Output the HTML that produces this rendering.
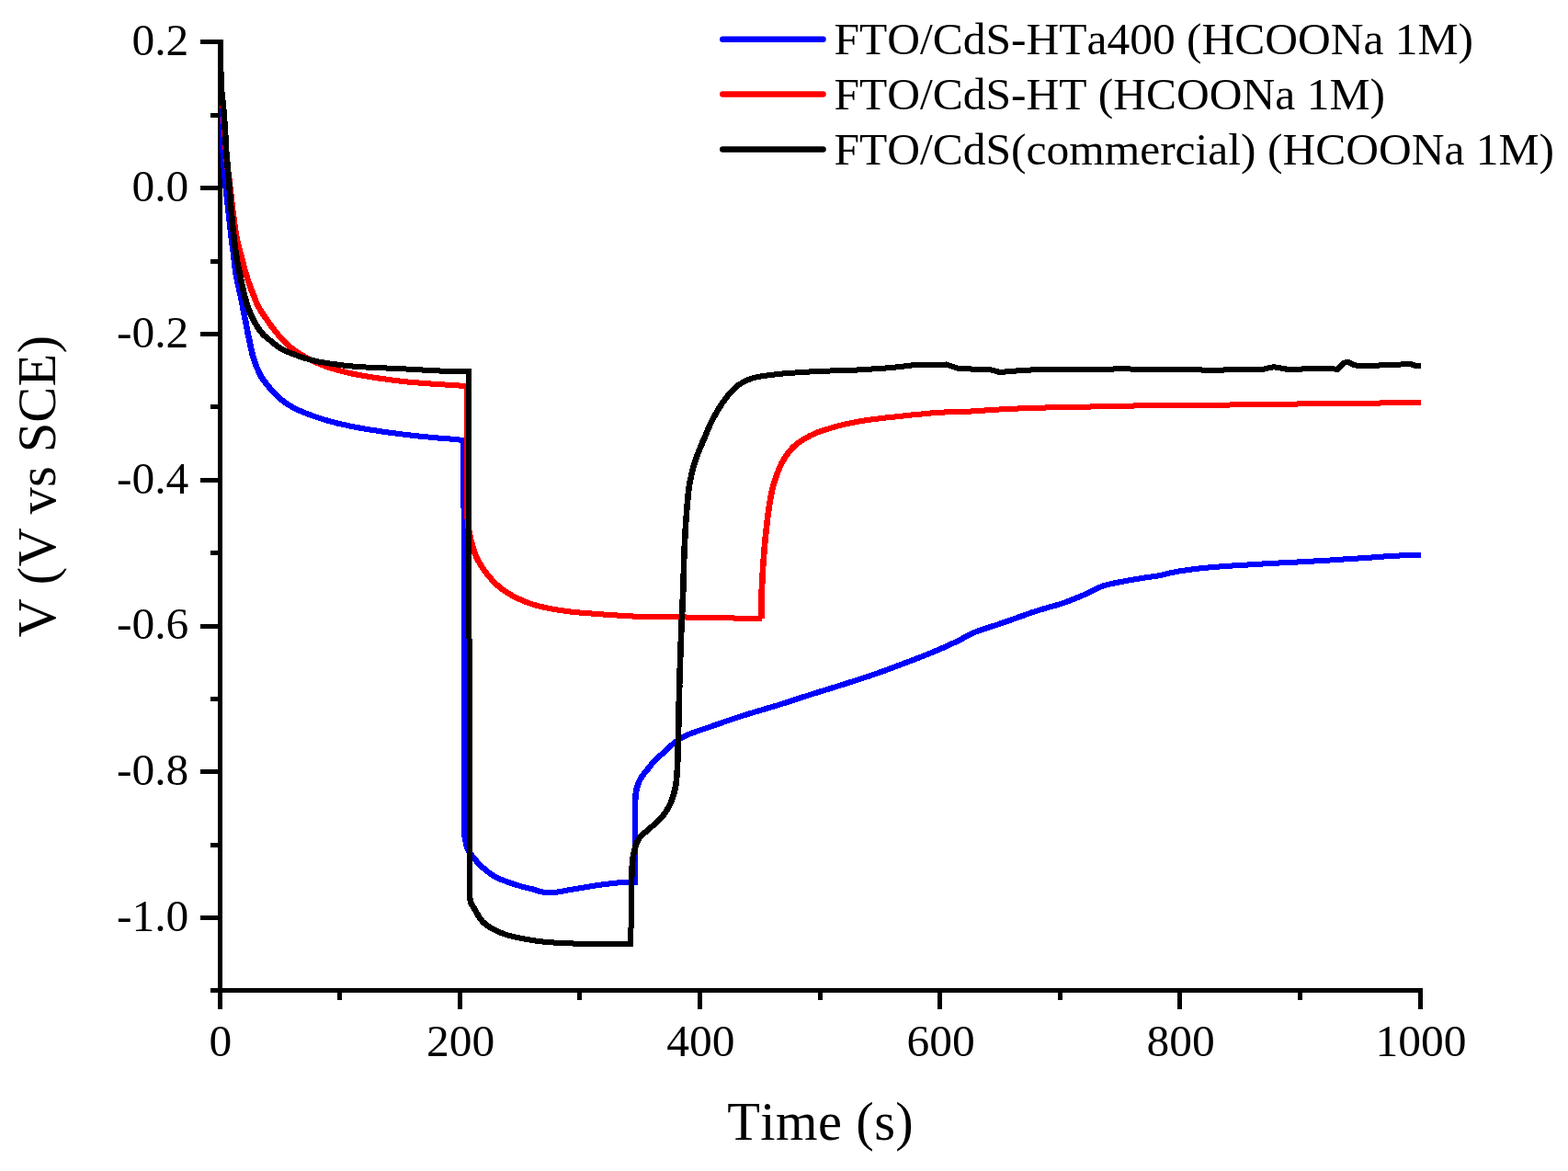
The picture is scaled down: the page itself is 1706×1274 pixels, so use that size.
<!DOCTYPE html>
<html lang="en">
<head>
<meta charset="utf-8">
<title>Open circuit potential vs time</title>
<style>
html,body{margin:0;padding:0;background:#fff;}
body{width:1706px;height:1274px;overflow:hidden;font-family:"Liberation Serif","Times New Roman",serif;}
svg{display:block;}
text{font-kerning:none;font-variant-ligatures:none;}
</style>
</head>
<body>
<svg width="1706" height="1274" viewBox="0 0 1706 1274" role="img" aria-label="Potential V (V vs SCE) versus Time (s)">
<rect width="1706" height="1274" fill="#fff"/>
<defs><clipPath id="plotclip"><rect x="239" y="43" width="1307" height="1034"/></clipPath></defs>
<g fill="#000" shape-rendering="crispEdges">
<rect x="237" y="43" width="5" height="1037"/>
<rect x="237" y="1075" width="1311" height="5"/>
<rect x="218" y="43" width="19" height="5"/>
<rect x="229" y="123" width="8" height="5"/>
<rect x="218" y="202" width="19" height="5"/>
<rect x="229" y="282" width="8" height="5"/>
<rect x="218" y="361" width="19" height="5"/>
<rect x="229" y="440" width="8" height="5"/>
<rect x="218" y="520" width="19" height="5"/>
<rect x="229" y="599" width="8" height="5"/>
<rect x="218" y="679" width="19" height="5"/>
<rect x="229" y="758" width="8" height="5"/>
<rect x="218" y="837" width="19" height="5"/>
<rect x="229" y="917" width="8" height="5"/>
<rect x="218" y="996" width="19" height="5"/>
<rect x="229" y="1075" width="8" height="5"/>
<rect x="237" y="1080" width="5" height="18"/>
<rect x="367" y="1080" width="5" height="8"/>
<rect x="498" y="1080" width="5" height="18"/>
<rect x="628" y="1080" width="5" height="8"/>
<rect x="759" y="1080" width="5" height="18"/>
<rect x="890" y="1080" width="5" height="8"/>
<rect x="1020" y="1080" width="5" height="18"/>
<rect x="1151" y="1080" width="5" height="8"/>
<rect x="1281" y="1080" width="5" height="18"/>
<rect x="1412" y="1080" width="5" height="8"/>
<rect x="1543" y="1080" width="5" height="18"/>
</g>
<g clip-path="url(#plotclip)" shape-rendering="crispEdges" fill="none" stroke-width="6.0" stroke-linejoin="miter" stroke-miterlimit="3" stroke-linecap="butt">
<g stroke="#0000ff">
<path transform="translate(-0.30 0)" d="M240.3 116.0L240.4 117.5L240.4 119.1L240.5 120.6L240.6 122.2L240.7 123.7L240.7 125.3L240.8 126.8L240.9 128.4L241.0 129.9L241.0 131.5L241.1 133.0L241.2 134.6L241.3 136.1L241.3 137.6L241.4 139.1L241.5 140.6L241.6 142.1L241.6 143.6L241.7 145.0L241.8 146.6L241.9 148.2L241.9 149.8L242.0 151.3L242.1 152.9L242.2 154.4L242.2 155.9L242.3 157.5L242.4 159.0L242.5 160.5L242.6 162.0L242.6 163.5L242.7 165.0L242.8 166.5L242.9 168.0L243.0 169.6L243.1 171.2L243.2 172.8L243.3 174.4L243.4 176.1L243.5 177.7L243.6 179.3L243.7 180.9L243.8 182.5L244.0 184.0L244.1 185.6L244.2 187.1L244.3 188.6L244.4 190.0L244.5 191.6L244.7 193.1L244.8 194.6L244.9 196.0L245.0 197.4L245.1 198.8L245.3 200.3L245.4 201.8L245.6 203.3L245.8 205.0L245.9 206.3L246.0 207.7L246.2 209.1L246.3 210.5L246.5 212.0L246.7 213.5L246.9 215.0L247.0 216.6L247.2 218.2L247.4 219.7L247.6 221.3L247.8 222.9L248.0 224.5L248.2 226.1L248.4 227.7L248.5 229.3L248.7 230.9L248.9 232.4L249.1 234.0L249.3 235.5L249.4 237.1L249.6 238.7L249.8 240.4L250.0 242.0L250.1 243.6L250.3 245.2L250.5 246.8L250.7 248.4L250.8 250.0L251.0 251.6L251.2 253.1L251.4 254.7L251.5 256.2L251.7 257.7L251.9 259.2L252.1 260.6L252.2 262.2L252.4 263.8L252.6 265.3L252.8 266.8L253.0 268.3L253.2 269.8L253.4 271.2L253.6 272.7L253.8 274.1L254.0 275.6L254.2 277.0L254.4 278.5L254.6 280.0L254.7 281.5L254.9 283.1L255.1 284.6L255.2 286.1L255.4 287.7L255.6 289.2L255.7 290.8L255.9 292.3L256.1 293.8L256.3 295.4L256.5 296.9L256.7 298.5L257.0 300.0L257.3 301.5L257.6 303.1L257.9 304.6L258.2 306.1L258.5 307.5L258.9 309.0L259.2 310.5L259.6 312.1L260.0 313.6L260.3 315.1L260.7 316.7L261.0 318.3L261.4 320.0L261.7 321.4L262.0 322.8L262.2 324.2L262.5 325.6L262.8 327.1L263.1 328.5L263.4 330.0L263.7 331.5L264.0 333.0L264.3 334.6L264.6 336.1L264.8 337.6L265.1 339.1L265.4 340.7L265.7 342.2L266.0 343.7L266.3 345.2L266.6 346.7L266.9 348.2L267.2 349.7L267.5 351.2L267.8 352.8L268.1 354.3L268.4 355.9L268.7 357.5L269.0 359.0L269.3 360.6L269.6 362.2L269.9 363.7L270.3 365.3L270.6 366.8L270.9 368.3L271.2 369.8L271.5 371.2L271.7 372.6L272.0 373.9L272.3 375.2L272.6 376.5L273.0 378.3L273.4 380.0L273.7 381.6L274.1 383.1L274.4 384.6L274.8 386.1L275.2 387.6L275.6 389.1L276.1 390.6L276.6 392.1L277.1 393.5L277.7 395.1L278.2 396.6L278.8 398.1L279.4 399.6L280.0 401.0L280.6 402.3L281.1 403.6L281.6 404.7L282.4 406.6L283.2 408.1L284.3 410.0L284.9 410.9L285.5 411.8L286.3 412.9L287.1 414.0L287.9 415.1L288.9 416.3L289.8 417.6L290.8 418.9L291.9 420.2L293.0 421.5L294.1 422.8L295.2 424.0L296.3 425.3L297.4 426.5L298.5 427.7L299.5 428.8L300.6 429.8L301.8 430.9L302.9 432.0L304.1 433.0L305.2 434.0L306.4 435.0L307.6 435.9L308.8 436.9L310.0 437.8L311.3 438.7L312.6 439.5L313.9 440.4L315.3 441.3L316.8 442.1L318.3 443.0L319.5 443.6L320.7 444.3L321.9 444.9L323.2 445.5L324.5 446.1L325.8 446.7L327.2 447.3L328.6 447.9L330.0 448.5L331.4 449.1L332.8 449.6L334.3 450.2L335.8 450.8L337.3 451.3L338.8 451.9L340.3 452.4L341.8 452.9L343.3 453.4L344.8 453.9L346.3 454.4L347.8 454.9L349.2 455.4L350.7 455.9L352.2 456.4L353.6 456.8L355.0 457.2L356.5 457.7L357.9 458.1L359.4 458.5L360.8 458.9L362.2 459.3L363.6 459.6L365.0 460.0L366.5 460.4L367.9 460.7L369.3 461.0L370.7 461.4L372.2 461.7L373.6 462.0L375.1 462.3L376.6 462.6L378.0 463.0L379.5 463.3L381.0 463.6L382.6 463.9L384.1 464.2L385.7 464.5L387.3 464.8L388.9 465.1L390.3 465.4L391.6 465.6L393.0 465.9L394.4 466.1L395.9 466.4L397.3 466.6L398.7 466.9L400.2 467.1L401.6 467.4L403.1 467.6L404.6 467.8L406.1 468.1L407.6 468.3L409.1 468.5L410.6 468.8L412.1 469.0L413.7 469.2L415.2 469.5L416.7 469.7L418.3 469.9L419.8 470.1L421.4 470.3L423.0 470.6L424.5 470.8L426.1 471.0L427.7 471.2L429.3 471.4L430.8 471.6L432.4 471.8L434.0 472.0L435.6 472.2L437.2 472.4L438.7 472.6L440.3 472.8L441.9 473.0L443.4 473.2L444.8 473.3L446.3 473.5L447.8 473.7L449.3 473.8L450.8 474.0L452.3 474.2L453.8 474.3L455.3 474.5L456.8 474.6L458.3 474.8L459.8 474.9L461.3 475.1L462.8 475.2L464.4 475.4L465.9 475.5L467.4 475.6L469.0 475.8L470.5 475.9L472.0 476.1L473.6 476.2L475.1 476.3L476.7 476.5L478.2 476.6L479.8 476.7L481.3 476.9L482.8 477.0L484.4 477.1L485.9 477.3L487.5 477.4L489.0 477.5L490.6 477.7L492.1 477.8L493.6 477.9L495.2 478.1L496.7 478.2L498.3 478.3L499.8 478.5L501.3 478.6L502.9 478.8L504.4 478.9M505.0 903.0L505.2 904.5L505.3 906.0L505.4 907.5L505.6 909.0L505.8 910.5L506.0 912.0L506.3 913.5L506.6 915.1L506.9 916.6L507.2 918.2L507.6 919.6L508.0 921.0L508.5 922.6L509.1 924.2L509.8 925.6L510.5 927.0L511.5 928.6L512.6 930.0L514.0 931.7L514.8 932.6L515.6 933.6L516.5 934.7L517.5 935.8L518.5 937.0L519.6 938.2L520.7 939.4L521.9 940.6L523.0 941.7L524.2 942.9L525.3 943.9L526.5 944.9L527.7 946.0L528.9 947.0L530.2 948.0L531.5 949.0L532.8 949.9L534.1 950.9L535.4 951.8L536.7 952.6L538.1 953.4L539.4 954.2L540.8 954.9L542.2 955.6L543.6 956.3L545.0 956.8L546.4 957.4L547.9 957.9L549.3 958.5L550.7 959.0L552.2 959.5L553.6 960.0L555.2 960.6L556.7 961.1L558.3 961.6L559.8 962.1L561.4 962.6L563.0 963.1L564.6 963.6L566.1 964.0L567.7 964.5L569.3 964.9L570.9 965.4L572.6 965.8L574.3 966.2L575.9 966.6L577.5 967.0L579.1 967.3L580.5 967.7L581.8 968.1L583.5 968.7L585.1 969.2L586.5 969.8L588.0 970.3M588.0 970.3L589.6 970.4L591.2 970.6L592.8 970.7L594.3 970.8L595.9 970.9L597.4 971.0L598.8 971.0L600.3 971.0L601.8 971.0L603.5 970.9L604.8 970.8L606.2 970.6L607.6 970.4L609.1 970.1L610.7 969.8L612.3 969.5L613.9 969.2L615.6 968.9L617.3 968.6L619.0 968.3L620.3 968.1L621.7 967.8L623.1 967.6L624.6 967.3L626.1 967.1L627.6 966.8L629.1 966.6L630.7 966.3L632.2 966.0L633.8 965.8L635.4 965.5L636.9 965.2L638.5 965.0L640.1 964.7L641.6 964.5L643.2 964.2L644.7 964.0L646.2 963.8L647.8 963.5L649.4 963.3L650.9 963.1L652.5 962.8L654.2 962.6L655.8 962.4L657.3 962.2L658.9 962.0L660.5 961.8L662.0 961.6L663.6 961.4L665.0 961.2L666.5 961.0L667.9 960.9L669.2 960.7L670.5 960.6L672.3 960.4L674.1 960.3L675.8 960.2L677.4 960.1L679.0 960.1L680.5 960.0L682.0 959.9L683.4 959.9L685.0 959.9L686.6 959.8L688.1 959.8L689.5 959.8L691.0 959.8M691.5 870.0L691.6 868.5L691.6 866.9L691.7 865.4L691.7 863.9L691.9 862.4L692.2 860.6L692.5 858.8L693.0 857.1L693.5 855.3L694.0 853.9L694.5 852.4L695.1 851.0L695.7 849.6L696.4 848.2L697.2 846.7L698.2 845.2L699.2 843.8L700.2 842.4L701.1 841.2L702.1 840.0L703.0 838.9L704.1 837.7L704.9 836.7L705.8 835.5L706.7 834.3L707.7 833.0L708.7 831.7L709.7 830.4L710.8 829.2L711.8 828.2L712.8 827.2L713.8 826.2L714.8 825.2L715.9 824.2L717.0 823.2L718.2 822.2L719.4 821.1L720.7 820.0L721.7 819.1L722.7 818.2L723.7 817.3L724.7 816.3L725.8 815.3L726.9 814.2L728.0 813.2L729.1 812.2L730.3 811.1L731.4 810.1L732.7 809.0L733.9 808.0L735.2 807.0L736.5 806.0L737.8 805.1L739.2 804.2L740.6 803.3L741.8 802.6L743.0 802.0L744.3 801.3L745.6 800.7L746.9 800.1L748.2 799.5L749.6 798.9L751.0 798.3L752.4 797.8L753.9 797.2L755.3 796.7L756.8 796.2L758.2 795.6L759.7 795.1L761.2 794.6L762.7 794.1L764.2 793.6L765.7 793.1L767.2 792.6L768.7 792.1L770.2 791.6L771.7 791.1L773.1 790.6L774.6 790.1L776.0 789.6L777.5 789.1L778.9 788.5L780.4 788.0L781.9 787.5L783.3 787.0L784.8 786.5L786.3 786.0L787.7 785.5L789.2 785.0L790.7 784.5L792.2 784.0L793.6 783.5L795.1 783.0L796.6 782.5L798.0 782.0L799.5 781.5L801.0 781.0L802.5 780.5L803.9 780.1L805.4 779.6L806.9 779.1L808.4 778.6L809.8 778.2L811.3 777.7L812.8 777.2L814.2 776.8L815.7 776.3L817.2 775.9L818.6 775.4L820.1 775.0L821.6 774.5L823.1 774.1L824.5 773.7L826.0 773.2L827.5 772.8L828.9 772.4L830.4 771.9L831.9 771.5L833.4 771.1L834.8 770.6L836.3 770.2L837.8 769.8L839.3 769.3L840.7 768.9L842.2 768.5L843.7 768.0L845.1 767.6L846.6 767.1L848.1 766.6L849.5 766.2L851.0 765.7L852.5 765.2L854.0 764.8L855.4 764.3L856.9 763.8L858.4 763.3L859.8 762.9L861.3 762.4L862.8 761.9L864.3 761.4L865.7 760.9L867.2 760.5L868.7 760.0L870.1 759.5L871.6 759.0L873.1 758.5L874.5 758.1L876.0 757.6L877.5 757.1L879.0 756.6L880.4 756.2L881.9 755.7L883.4 755.2L884.8 754.8L886.3 754.3L887.8 753.9L889.3 753.4L890.7 752.9L892.2 752.5L893.7 752.0L895.1 751.6L896.6 751.1L898.1 750.7L899.6 750.2L901.0 749.8L902.5 749.3L904.0 748.8L905.4 748.4L906.9 747.9L908.4 747.5L909.8 747.0L911.3 746.6L912.8 746.1L914.3 745.6L915.7 745.2L917.2 744.7L918.7 744.2L920.2 743.8L921.7 743.3L923.2 742.8L924.7 742.3L926.2 741.8L927.7 741.4L929.2 740.9L930.7 740.4L932.2 739.9L933.7 739.4L935.2 738.9L936.7 738.5L938.2 738.0L939.7 737.5L941.2 737.0L942.7 736.5L944.1 736.0L945.5 735.6L947.0 735.1L948.4 734.6L949.8 734.1L951.1 733.7L952.5 733.2L954.1 732.6L955.6 732.1L957.1 731.6L958.6 731.0L960.1 730.5L961.5 730.0L962.9 729.5L964.4 728.9L965.8 728.4L967.2 727.9L968.6 727.3L970.1 726.8L971.5 726.2L973.0 725.7L974.5 725.1L976.1 724.5L977.7 723.9L979.0 723.4L980.4 722.9L981.7 722.4L983.1 721.9L984.6 721.3L986.0 720.8L987.4 720.2L988.9 719.7L990.4 719.1L991.9 718.6L993.4 718.0L994.9 717.4L996.4 716.9L997.9 716.3L999.4 715.7L1000.9 715.1L1002.4 714.6L1003.9 714.0L1005.4 713.4L1006.9 712.8L1008.3 712.2L1009.8 711.7L1011.2 711.1L1012.6 710.5L1014.0 710.0L1015.3 709.4L1016.8 708.8L1018.3 708.1L1019.9 707.5L1021.4 706.8L1022.9 706.1L1024.4 705.5L1025.9 704.8L1027.4 704.2L1028.8 703.5L1030.3 702.9L1031.7 702.2L1033.1 701.5L1034.5 700.9L1035.9 700.3L1037.3 699.6L1038.6 699.0L1039.9 698.4L1041.2 697.8L1042.4 697.2L1043.6 696.6L1045.1 695.8L1046.6 695.1L1047.9 694.3L1049.2 693.6L1050.4 692.9L1051.7 692.2L1053.0 691.5L1054.3 690.8L1055.6 690.1L1057.1 689.4L1058.7 688.7L1059.9 688.2L1061.1 687.7L1062.4 687.2L1063.7 686.7L1065.1 686.2L1066.5 685.7L1067.9 685.2L1069.3 684.7L1070.8 684.2L1072.3 683.8L1073.8 683.3L1075.3 682.8L1076.8 682.3L1078.3 681.8L1079.9 681.3L1081.4 680.8L1083.0 680.3L1084.6 679.8L1086.1 679.3L1087.6 678.7L1089.2 678.2L1090.7 677.7L1092.1 677.2L1093.5 676.7L1094.9 676.2L1096.4 675.7L1097.8 675.2L1099.3 674.7L1100.8 674.1L1102.2 673.6L1103.7 673.1L1105.2 672.6L1106.7 672.0L1108.2 671.5L1109.7 671.0L1111.2 670.4L1112.7 669.9L1114.1 669.4L1115.6 668.8L1117.1 668.3L1118.5 667.8L1120.0 667.3L1121.4 666.8L1122.9 666.3L1124.3 665.9L1125.7 665.4L1127.0 664.9L1128.4 664.5L1130.0 664.0L1131.5 663.5L1133.1 663.0L1134.6 662.6L1136.2 662.1L1137.7 661.7L1139.2 661.3L1140.7 660.8L1142.2 660.4L1143.7 660.0L1145.2 659.6L1146.6 659.2L1148.1 658.8L1149.5 658.3L1151.0 657.9L1152.4 657.5L1153.8 657.0L1155.2 656.6L1156.6 656.1L1158.1 655.6L1159.6 655.1L1161.0 654.5L1162.5 654.0L1163.9 653.4L1165.3 652.9L1166.8 652.3L1168.2 651.8L1169.6 651.2L1170.9 650.7L1172.3 650.1L1173.7 649.5L1175.1 648.9L1176.5 648.4L1177.8 647.8L1179.2 647.2L1180.6 646.6L1182.0 645.9L1183.4 645.3L1184.8 644.6L1186.1 643.9L1187.5 643.2L1188.8 642.5L1190.2 641.8L1191.6 641.2L1192.9 640.5L1194.3 639.9L1195.7 639.2L1197.1 638.7L1198.5 638.1L1199.9 637.6L1201.4 637.1L1202.8 636.7L1204.3 636.3L1205.9 635.9L1207.4 635.5L1208.9 635.2L1210.5 634.8L1212.0 634.5L1213.5 634.2L1215.1 633.9L1216.6 633.6L1218.1 633.3L1219.6 633.1L1221.1 632.8L1222.5 632.5L1224.1 632.2L1225.7 631.9L1227.2 631.6L1228.8 631.3L1230.3 631.0L1231.8 630.7L1233.4 630.5L1234.9 630.2L1236.4 630.0L1237.9 629.7L1239.5 629.5L1241.0 629.2L1242.6 629.0L1244.2 628.7L1245.7 628.5L1247.3 628.3L1248.9 628.1L1250.5 627.8L1252.1 627.6L1253.7 627.4L1255.3 627.2L1256.9 626.9L1258.4 626.7L1260.0 626.4L1261.5 626.1L1263.0 625.8L1264.5 625.5L1265.9 625.1L1267.4 624.8L1268.9 624.4L1270.3 624.0L1271.8 623.7L1273.3 623.3L1274.7 623.0L1276.2 622.7L1277.7 622.4L1279.2 622.1L1280.7 621.9L1282.2 621.6L1283.7 621.4L1285.3 621.1L1286.8 620.9L1288.3 620.7L1289.8 620.4L1291.4 620.2L1292.9 620.0L1294.5 619.8L1296.0 619.6L1297.6 619.4L1299.1 619.2L1300.5 619.0L1302.0 618.8L1303.5 618.6L1305.0 618.5L1306.5 618.3L1308.1 618.1L1309.7 617.9L1311.5 617.8L1313.3 617.6L1315.3 617.4L1316.4 617.3L1317.6 617.2L1318.9 617.1L1320.1 617.0L1321.4 616.9L1322.8 616.8L1324.2 616.7L1325.6 616.6L1327.0 616.5L1328.5 616.4L1329.9 616.2L1331.5 616.1L1333.0 616.0L1334.5 615.9L1336.1 615.8L1337.7 615.7L1339.3 615.6L1340.9 615.5L1342.6 615.4L1344.2 615.3L1345.8 615.2L1347.5 615.1L1349.2 615.0L1350.8 614.9L1352.5 614.8L1354.1 614.7L1355.8 614.6L1357.5 614.5L1359.1 614.4L1360.8 614.3L1362.4 614.2L1364.0 614.1L1365.6 614.0L1367.2 613.9L1368.8 613.8L1370.4 613.7L1371.9 613.6L1373.4 613.5L1375.0 613.4L1376.5 613.3L1378.0 613.2L1379.5 613.2L1381.1 613.1L1382.6 613.0L1384.1 612.9L1385.6 612.8L1387.2 612.7L1388.7 612.7L1390.2 612.6L1391.8 612.5L1393.3 612.4L1394.8 612.4L1396.3 612.3L1397.9 612.2L1399.4 612.1L1400.9 612.0L1402.4 612.0L1404.0 611.9L1405.5 611.8L1407.0 611.7L1408.6 611.7L1410.1 611.6L1411.6 611.5L1413.1 611.4L1414.7 611.4L1416.2 611.3L1417.7 611.2L1419.2 611.1L1420.8 611.0L1422.3 610.9L1423.8 610.9L1425.3 610.8L1426.9 610.7L1428.4 610.6L1429.9 610.5L1431.5 610.4L1433.0 610.3L1434.6 610.2L1436.1 610.1L1437.7 610.0L1439.3 609.9L1440.8 609.9L1442.4 609.8L1444.0 609.7L1445.6 609.6L1447.1 609.5L1448.7 609.4L1450.3 609.3L1451.9 609.2L1453.4 609.1L1455.0 609.0L1456.6 608.9L1458.2 608.7L1459.7 608.6L1461.3 608.5L1462.8 608.4L1464.4 608.3L1465.9 608.2L1467.4 608.1L1468.9 608.0L1470.5 607.9L1472.0 607.8L1473.4 607.8L1474.9 607.7L1476.4 607.6L1477.8 607.5L1479.3 607.4L1480.7 607.3L1482.1 607.2L1483.5 607.1L1484.9 607.0L1486.5 606.9L1488.2 606.8L1489.8 606.7L1491.4 606.6L1493.0 606.4L1494.6 606.3L1496.1 606.2L1497.7 606.1L1499.2 606.0L1500.8 605.9L1502.3 605.8L1503.8 605.7L1505.3 605.5L1506.8 605.4L1508.2 605.3L1509.7 605.2L1511.2 605.1L1512.6 605.0L1514.0 604.9L1515.5 604.9L1516.9 604.8L1518.3 604.7L1519.7 604.6L1521.1 604.6L1522.5 604.5L1524.1 604.4L1525.7 604.4L1527.3 604.3L1528.9 604.3L1530.4 604.3L1532.0 604.2L1533.5 604.2L1535.0 604.2L1536.5 604.2L1538.0 604.1L1539.5 604.1L1541.0 604.1L1542.5 604.1L1544.0 604.1L1545.5 604.1L1547.0 604.0L1548.5 604.0L1550.0 604.0"/>
<path transform="translate(0.30 0)" d="M240.3 116.0L240.4 117.5L240.4 119.1L240.5 120.6L240.6 122.2L240.7 123.7L240.7 125.3L240.8 126.8L240.9 128.4L241.0 129.9L241.0 131.5L241.1 133.0L241.2 134.6L241.3 136.1L241.3 137.6L241.4 139.1L241.5 140.6L241.6 142.1L241.6 143.6L241.7 145.0L241.8 146.6L241.9 148.2L241.9 149.8L242.0 151.3L242.1 152.9L242.2 154.4L242.2 155.9L242.3 157.5L242.4 159.0L242.5 160.5L242.6 162.0L242.6 163.5L242.7 165.0L242.8 166.5L242.9 168.0L243.0 169.6L243.1 171.2L243.2 172.8L243.3 174.4L243.4 176.1L243.5 177.7L243.6 179.3L243.7 180.9L243.8 182.5L244.0 184.0L244.1 185.6L244.2 187.1L244.3 188.6L244.4 190.0L244.5 191.6L244.7 193.1L244.8 194.6L244.9 196.0L245.0 197.4L245.1 198.8L245.3 200.3L245.4 201.8L245.6 203.3L245.8 205.0L245.9 206.3L246.0 207.7L246.2 209.1L246.3 210.5L246.5 212.0L246.7 213.5L246.9 215.0L247.0 216.6L247.2 218.2L247.4 219.7L247.6 221.3L247.8 222.9L248.0 224.5L248.2 226.1L248.4 227.7L248.5 229.3L248.7 230.9L248.9 232.4L249.1 234.0L249.3 235.5L249.4 237.1L249.6 238.7L249.8 240.4L250.0 242.0L250.1 243.6L250.3 245.2L250.5 246.8L250.7 248.4L250.8 250.0L251.0 251.6L251.2 253.1L251.4 254.7L251.5 256.2L251.7 257.7L251.9 259.2L252.1 260.6L252.2 262.2L252.4 263.8L252.6 265.3L252.8 266.8L253.0 268.3L253.2 269.8L253.4 271.2L253.6 272.7L253.8 274.1L254.0 275.6L254.2 277.0L254.4 278.5L254.6 280.0L254.7 281.5L254.9 283.1L255.1 284.6L255.2 286.1L255.4 287.7L255.6 289.2L255.7 290.8L255.9 292.3L256.1 293.8L256.3 295.4L256.5 296.9L256.7 298.5L257.0 300.0L257.3 301.5L257.6 303.1L257.9 304.6L258.2 306.1L258.5 307.5L258.9 309.0L259.2 310.5L259.6 312.1L260.0 313.6L260.3 315.1L260.7 316.7L261.0 318.3L261.4 320.0L261.7 321.4L262.0 322.8L262.2 324.2L262.5 325.6L262.8 327.1L263.1 328.5L263.4 330.0L263.7 331.5L264.0 333.0L264.3 334.6L264.6 336.1L264.8 337.6L265.1 339.1L265.4 340.7L265.7 342.2L266.0 343.7L266.3 345.2L266.6 346.7L266.9 348.2L267.2 349.7L267.5 351.2L267.8 352.8L268.1 354.3L268.4 355.9L268.7 357.5L269.0 359.0L269.3 360.6L269.6 362.2L269.9 363.7L270.3 365.3L270.6 366.8L270.9 368.3L271.2 369.8L271.5 371.2L271.7 372.6L272.0 373.9L272.3 375.2L272.6 376.5L273.0 378.3L273.4 380.0L273.7 381.6L274.1 383.1L274.4 384.6L274.8 386.1L275.2 387.6L275.6 389.1L276.1 390.6L276.6 392.1L277.1 393.5L277.7 395.1L278.2 396.6L278.8 398.1L279.4 399.6L280.0 401.0L280.6 402.3L281.1 403.6L281.6 404.7L282.4 406.6L283.2 408.1L284.3 410.0L284.9 410.9L285.5 411.8L286.3 412.9L287.1 414.0L287.9 415.1L288.9 416.3L289.8 417.6L290.8 418.9L291.9 420.2L293.0 421.5L294.1 422.8L295.2 424.0L296.3 425.3L297.4 426.5L298.5 427.7L299.5 428.8L300.6 429.8L301.8 430.9L302.9 432.0L304.1 433.0L305.2 434.0L306.4 435.0L307.6 435.9L308.8 436.9L310.0 437.8L311.3 438.7L312.6 439.5L313.9 440.4L315.3 441.3L316.8 442.1L318.3 443.0L319.5 443.6L320.7 444.3L321.9 444.9L323.2 445.5L324.5 446.1L325.8 446.7L327.2 447.3L328.6 447.9L330.0 448.5L331.4 449.1L332.8 449.6L334.3 450.2L335.8 450.8L337.3 451.3L338.8 451.9L340.3 452.4L341.8 452.9L343.3 453.4L344.8 453.9L346.3 454.4L347.8 454.9L349.2 455.4L350.7 455.9L352.2 456.4L353.6 456.8L355.0 457.2L356.5 457.7L357.9 458.1L359.4 458.5L360.8 458.9L362.2 459.3L363.6 459.6L365.0 460.0L366.5 460.4L367.9 460.7L369.3 461.0L370.7 461.4L372.2 461.7L373.6 462.0L375.1 462.3L376.6 462.6L378.0 463.0L379.5 463.3L381.0 463.6L382.6 463.9L384.1 464.2L385.7 464.5L387.3 464.8L388.9 465.1L390.3 465.4L391.6 465.6L393.0 465.9L394.4 466.1L395.9 466.4L397.3 466.6L398.7 466.9L400.2 467.1L401.6 467.4L403.1 467.6L404.6 467.8L406.1 468.1L407.6 468.3L409.1 468.5L410.6 468.8L412.1 469.0L413.7 469.2L415.2 469.5L416.7 469.7L418.3 469.9L419.8 470.1L421.4 470.3L423.0 470.6L424.5 470.8L426.1 471.0L427.7 471.2L429.3 471.4L430.8 471.6L432.4 471.8L434.0 472.0L435.6 472.2L437.2 472.4L438.7 472.6L440.3 472.8L441.9 473.0L443.4 473.2L444.8 473.3L446.3 473.5L447.8 473.7L449.3 473.8L450.8 474.0L452.3 474.2L453.8 474.3L455.3 474.5L456.8 474.6L458.3 474.8L459.8 474.9L461.3 475.1L462.8 475.2L464.4 475.4L465.9 475.5L467.4 475.6L469.0 475.8L470.5 475.9L472.0 476.1L473.6 476.2L475.1 476.3L476.7 476.5L478.2 476.6L479.8 476.7L481.3 476.9L482.8 477.0L484.4 477.1L485.9 477.3L487.5 477.4L489.0 477.5L490.6 477.7L492.1 477.8L493.6 477.9L495.2 478.1L496.7 478.2L498.3 478.3L499.8 478.5L501.3 478.6L502.9 478.8L504.4 478.9M505.0 903.0L505.2 904.5L505.3 906.0L505.4 907.5L505.6 909.0L505.8 910.5L506.0 912.0L506.3 913.5L506.6 915.1L506.9 916.6L507.2 918.2L507.6 919.6L508.0 921.0L508.5 922.6L509.1 924.2L509.8 925.6L510.5 927.0L511.5 928.6L512.6 930.0L514.0 931.7L514.8 932.6L515.6 933.6L516.5 934.7L517.5 935.8L518.5 937.0L519.6 938.2L520.7 939.4L521.9 940.6L523.0 941.7L524.2 942.9L525.3 943.9L526.5 944.9L527.7 946.0L528.9 947.0L530.2 948.0L531.5 949.0L532.8 949.9L534.1 950.9L535.4 951.8L536.7 952.6L538.1 953.4L539.4 954.2L540.8 954.9L542.2 955.6L543.6 956.3L545.0 956.8L546.4 957.4L547.9 957.9L549.3 958.5L550.7 959.0L552.2 959.5L553.6 960.0L555.2 960.6L556.7 961.1L558.3 961.6L559.8 962.1L561.4 962.6L563.0 963.1L564.6 963.6L566.1 964.0L567.7 964.5L569.3 964.9L570.9 965.4L572.6 965.8L574.3 966.2L575.9 966.6L577.5 967.0L579.1 967.3L580.5 967.7L581.8 968.1L583.5 968.7L585.1 969.2L586.5 969.8L588.0 970.3M588.0 970.3L589.6 970.4L591.2 970.6L592.8 970.7L594.3 970.8L595.9 970.9L597.4 971.0L598.8 971.0L600.3 971.0L601.8 971.0L603.5 970.9L604.8 970.8L606.2 970.6L607.6 970.4L609.1 970.1L610.7 969.8L612.3 969.5L613.9 969.2L615.6 968.9L617.3 968.6L619.0 968.3L620.3 968.1L621.7 967.8L623.1 967.6L624.6 967.3L626.1 967.1L627.6 966.8L629.1 966.6L630.7 966.3L632.2 966.0L633.8 965.8L635.4 965.5L636.9 965.2L638.5 965.0L640.1 964.7L641.6 964.5L643.2 964.2L644.7 964.0L646.2 963.8L647.8 963.5L649.4 963.3L650.9 963.1L652.5 962.8L654.2 962.6L655.8 962.4L657.3 962.2L658.9 962.0L660.5 961.8L662.0 961.6L663.6 961.4L665.0 961.2L666.5 961.0L667.9 960.9L669.2 960.7L670.5 960.6L672.3 960.4L674.1 960.3L675.8 960.2L677.4 960.1L679.0 960.1L680.5 960.0L682.0 959.9L683.4 959.9L685.0 959.9L686.6 959.8L688.1 959.8L689.5 959.8L691.0 959.8M691.5 870.0L691.6 868.5L691.6 866.9L691.7 865.4L691.7 863.9L691.9 862.4L692.2 860.6L692.5 858.8L693.0 857.1L693.5 855.3L694.0 853.9L694.5 852.4L695.1 851.0L695.7 849.6L696.4 848.2L697.2 846.7L698.2 845.2L699.2 843.8L700.2 842.4L701.1 841.2L702.1 840.0L703.0 838.9L704.1 837.7L704.9 836.7L705.8 835.5L706.7 834.3L707.7 833.0L708.7 831.7L709.7 830.4L710.8 829.2L711.8 828.2L712.8 827.2L713.8 826.2L714.8 825.2L715.9 824.2L717.0 823.2L718.2 822.2L719.4 821.1L720.7 820.0L721.7 819.1L722.7 818.2L723.7 817.3L724.7 816.3L725.8 815.3L726.9 814.2L728.0 813.2L729.1 812.2L730.3 811.1L731.4 810.1L732.7 809.0L733.9 808.0L735.2 807.0L736.5 806.0L737.8 805.1L739.2 804.2L740.6 803.3L741.8 802.6L743.0 802.0L744.3 801.3L745.6 800.7L746.9 800.1L748.2 799.5L749.6 798.9L751.0 798.3L752.4 797.8L753.9 797.2L755.3 796.7L756.8 796.2L758.2 795.6L759.7 795.1L761.2 794.6L762.7 794.1L764.2 793.6L765.7 793.1L767.2 792.6L768.7 792.1L770.2 791.6L771.7 791.1L773.1 790.6L774.6 790.1L776.0 789.6L777.5 789.1L778.9 788.5L780.4 788.0L781.9 787.5L783.3 787.0L784.8 786.5L786.3 786.0L787.7 785.5L789.2 785.0L790.7 784.5L792.2 784.0L793.6 783.5L795.1 783.0L796.6 782.5L798.0 782.0L799.5 781.5L801.0 781.0L802.5 780.5L803.9 780.1L805.4 779.6L806.9 779.1L808.4 778.6L809.8 778.2L811.3 777.7L812.8 777.2L814.2 776.8L815.7 776.3L817.2 775.9L818.6 775.4L820.1 775.0L821.6 774.5L823.1 774.1L824.5 773.7L826.0 773.2L827.5 772.8L828.9 772.4L830.4 771.9L831.9 771.5L833.4 771.1L834.8 770.6L836.3 770.2L837.8 769.8L839.3 769.3L840.7 768.9L842.2 768.5L843.7 768.0L845.1 767.6L846.6 767.1L848.1 766.6L849.5 766.2L851.0 765.7L852.5 765.2L854.0 764.8L855.4 764.3L856.9 763.8L858.4 763.3L859.8 762.9L861.3 762.4L862.8 761.9L864.3 761.4L865.7 760.9L867.2 760.5L868.7 760.0L870.1 759.5L871.6 759.0L873.1 758.5L874.5 758.1L876.0 757.6L877.5 757.1L879.0 756.6L880.4 756.2L881.9 755.7L883.4 755.2L884.8 754.8L886.3 754.3L887.8 753.9L889.3 753.4L890.7 752.9L892.2 752.5L893.7 752.0L895.1 751.6L896.6 751.1L898.1 750.7L899.6 750.2L901.0 749.8L902.5 749.3L904.0 748.8L905.4 748.4L906.9 747.9L908.4 747.5L909.8 747.0L911.3 746.6L912.8 746.1L914.3 745.6L915.7 745.2L917.2 744.7L918.7 744.2L920.2 743.8L921.7 743.3L923.2 742.8L924.7 742.3L926.2 741.8L927.7 741.4L929.2 740.9L930.7 740.4L932.2 739.9L933.7 739.4L935.2 738.9L936.7 738.5L938.2 738.0L939.7 737.5L941.2 737.0L942.7 736.5L944.1 736.0L945.5 735.6L947.0 735.1L948.4 734.6L949.8 734.1L951.1 733.7L952.5 733.2L954.1 732.6L955.6 732.1L957.1 731.6L958.6 731.0L960.1 730.5L961.5 730.0L962.9 729.5L964.4 728.9L965.8 728.4L967.2 727.9L968.6 727.3L970.1 726.8L971.5 726.2L973.0 725.7L974.5 725.1L976.1 724.5L977.7 723.9L979.0 723.4L980.4 722.9L981.7 722.4L983.1 721.9L984.6 721.3L986.0 720.8L987.4 720.2L988.9 719.7L990.4 719.1L991.9 718.6L993.4 718.0L994.9 717.4L996.4 716.9L997.9 716.3L999.4 715.7L1000.9 715.1L1002.4 714.6L1003.9 714.0L1005.4 713.4L1006.9 712.8L1008.3 712.2L1009.8 711.7L1011.2 711.1L1012.6 710.5L1014.0 710.0L1015.3 709.4L1016.8 708.8L1018.3 708.1L1019.9 707.5L1021.4 706.8L1022.9 706.1L1024.4 705.5L1025.9 704.8L1027.4 704.2L1028.8 703.5L1030.3 702.9L1031.7 702.2L1033.1 701.5L1034.5 700.9L1035.9 700.3L1037.3 699.6L1038.6 699.0L1039.9 698.4L1041.2 697.8L1042.4 697.2L1043.6 696.6L1045.1 695.8L1046.6 695.1L1047.9 694.3L1049.2 693.6L1050.4 692.9L1051.7 692.2L1053.0 691.5L1054.3 690.8L1055.6 690.1L1057.1 689.4L1058.7 688.7L1059.9 688.2L1061.1 687.7L1062.4 687.2L1063.7 686.7L1065.1 686.2L1066.5 685.7L1067.9 685.2L1069.3 684.7L1070.8 684.2L1072.3 683.8L1073.8 683.3L1075.3 682.8L1076.8 682.3L1078.3 681.8L1079.9 681.3L1081.4 680.8L1083.0 680.3L1084.6 679.8L1086.1 679.3L1087.6 678.7L1089.2 678.2L1090.7 677.7L1092.1 677.2L1093.5 676.7L1094.9 676.2L1096.4 675.7L1097.8 675.2L1099.3 674.7L1100.8 674.1L1102.2 673.6L1103.7 673.1L1105.2 672.6L1106.7 672.0L1108.2 671.5L1109.7 671.0L1111.2 670.4L1112.7 669.9L1114.1 669.4L1115.6 668.8L1117.1 668.3L1118.5 667.8L1120.0 667.3L1121.4 666.8L1122.9 666.3L1124.3 665.9L1125.7 665.4L1127.0 664.9L1128.4 664.5L1130.0 664.0L1131.5 663.5L1133.1 663.0L1134.6 662.6L1136.2 662.1L1137.7 661.7L1139.2 661.3L1140.7 660.8L1142.2 660.4L1143.7 660.0L1145.2 659.6L1146.6 659.2L1148.1 658.8L1149.5 658.3L1151.0 657.9L1152.4 657.5L1153.8 657.0L1155.2 656.6L1156.6 656.1L1158.1 655.6L1159.6 655.1L1161.0 654.5L1162.5 654.0L1163.9 653.4L1165.3 652.9L1166.8 652.3L1168.2 651.8L1169.6 651.2L1170.9 650.7L1172.3 650.1L1173.7 649.5L1175.1 648.9L1176.5 648.4L1177.8 647.8L1179.2 647.2L1180.6 646.6L1182.0 645.9L1183.4 645.3L1184.8 644.6L1186.1 643.9L1187.5 643.2L1188.8 642.5L1190.2 641.8L1191.6 641.2L1192.9 640.5L1194.3 639.9L1195.7 639.2L1197.1 638.7L1198.5 638.1L1199.9 637.6L1201.4 637.1L1202.8 636.7L1204.3 636.3L1205.9 635.9L1207.4 635.5L1208.9 635.2L1210.5 634.8L1212.0 634.5L1213.5 634.2L1215.1 633.9L1216.6 633.6L1218.1 633.3L1219.6 633.1L1221.1 632.8L1222.5 632.5L1224.1 632.2L1225.7 631.9L1227.2 631.6L1228.8 631.3L1230.3 631.0L1231.8 630.7L1233.4 630.5L1234.9 630.2L1236.4 630.0L1237.9 629.7L1239.5 629.5L1241.0 629.2L1242.6 629.0L1244.2 628.7L1245.7 628.5L1247.3 628.3L1248.9 628.1L1250.5 627.8L1252.1 627.6L1253.7 627.4L1255.3 627.2L1256.9 626.9L1258.4 626.7L1260.0 626.4L1261.5 626.1L1263.0 625.8L1264.5 625.5L1265.9 625.1L1267.4 624.8L1268.9 624.4L1270.3 624.0L1271.8 623.7L1273.3 623.3L1274.7 623.0L1276.2 622.7L1277.7 622.4L1279.2 622.1L1280.7 621.9L1282.2 621.6L1283.7 621.4L1285.3 621.1L1286.8 620.9L1288.3 620.7L1289.8 620.4L1291.4 620.2L1292.9 620.0L1294.5 619.8L1296.0 619.6L1297.6 619.4L1299.1 619.2L1300.5 619.0L1302.0 618.8L1303.5 618.6L1305.0 618.5L1306.5 618.3L1308.1 618.1L1309.7 617.9L1311.5 617.8L1313.3 617.6L1315.3 617.4L1316.4 617.3L1317.6 617.2L1318.9 617.1L1320.1 617.0L1321.4 616.9L1322.8 616.8L1324.2 616.7L1325.6 616.6L1327.0 616.5L1328.5 616.4L1329.9 616.2L1331.5 616.1L1333.0 616.0L1334.5 615.9L1336.1 615.8L1337.7 615.7L1339.3 615.6L1340.9 615.5L1342.6 615.4L1344.2 615.3L1345.8 615.2L1347.5 615.1L1349.2 615.0L1350.8 614.9L1352.5 614.8L1354.1 614.7L1355.8 614.6L1357.5 614.5L1359.1 614.4L1360.8 614.3L1362.4 614.2L1364.0 614.1L1365.6 614.0L1367.2 613.9L1368.8 613.8L1370.4 613.7L1371.9 613.6L1373.4 613.5L1375.0 613.4L1376.5 613.3L1378.0 613.2L1379.5 613.2L1381.1 613.1L1382.6 613.0L1384.1 612.9L1385.6 612.8L1387.2 612.7L1388.7 612.7L1390.2 612.6L1391.8 612.5L1393.3 612.4L1394.8 612.4L1396.3 612.3L1397.9 612.2L1399.4 612.1L1400.9 612.0L1402.4 612.0L1404.0 611.9L1405.5 611.8L1407.0 611.7L1408.6 611.7L1410.1 611.6L1411.6 611.5L1413.1 611.4L1414.7 611.4L1416.2 611.3L1417.7 611.2L1419.2 611.1L1420.8 611.0L1422.3 610.9L1423.8 610.9L1425.3 610.8L1426.9 610.7L1428.4 610.6L1429.9 610.5L1431.5 610.4L1433.0 610.3L1434.6 610.2L1436.1 610.1L1437.7 610.0L1439.3 609.9L1440.8 609.9L1442.4 609.8L1444.0 609.7L1445.6 609.6L1447.1 609.5L1448.7 609.4L1450.3 609.3L1451.9 609.2L1453.4 609.1L1455.0 609.0L1456.6 608.9L1458.2 608.7L1459.7 608.6L1461.3 608.5L1462.8 608.4L1464.4 608.3L1465.9 608.2L1467.4 608.1L1468.9 608.0L1470.5 607.9L1472.0 607.8L1473.4 607.8L1474.9 607.7L1476.4 607.6L1477.8 607.5L1479.3 607.4L1480.7 607.3L1482.1 607.2L1483.5 607.1L1484.9 607.0L1486.5 606.9L1488.2 606.8L1489.8 606.7L1491.4 606.6L1493.0 606.4L1494.6 606.3L1496.1 606.2L1497.7 606.1L1499.2 606.0L1500.8 605.9L1502.3 605.8L1503.8 605.7L1505.3 605.5L1506.8 605.4L1508.2 605.3L1509.7 605.2L1511.2 605.1L1512.6 605.0L1514.0 604.9L1515.5 604.9L1516.9 604.8L1518.3 604.7L1519.7 604.6L1521.1 604.6L1522.5 604.5L1524.1 604.4L1525.7 604.4L1527.3 604.3L1528.9 604.3L1530.4 604.3L1532.0 604.2L1533.5 604.2L1535.0 604.2L1536.5 604.2L1538.0 604.1L1539.5 604.1L1541.0 604.1L1542.5 604.1L1544.0 604.1L1545.5 604.1L1547.0 604.0L1548.5 604.0L1550.0 604.0"/>
<path d="M501.3 478.6L502.9 478.8L504.4 478.9L505.0 903.0L505.2 904.5L505.3 906.0M688.1 959.8L689.5 959.8L691.0 959.8L691.5 870.0L691.6 868.5L691.6 866.9"/>
</g>
<g stroke="#ff0000">
<path transform="translate(-0.30 0)" d="M242.4 111.0L242.5 112.6L242.6 114.2L242.7 115.8L242.8 117.4L242.8 119.0L242.9 120.6L243.0 122.2L243.1 123.8L243.2 125.4L243.3 127.0L243.4 128.6L243.5 130.2L243.6 131.8L243.7 133.4L243.8 135.0L243.9 136.6L244.1 138.2L244.2 139.8L244.3 141.4L244.4 143.0L244.5 144.5L244.6 146.0L244.7 147.5L244.8 149.0L244.9 150.5L245.1 152.0L245.2 153.5L245.3 155.0L245.4 156.5L245.5 158.0L245.6 159.6L245.7 161.1L245.8 162.7L245.9 164.2L246.0 165.8L246.1 167.4L246.3 169.0L246.4 170.6L246.5 172.3L246.7 174.0L246.8 175.5L247.0 176.9L247.2 178.4L247.4 179.9L247.5 181.4L247.7 182.9L247.9 184.4L248.1 186.0L248.3 187.6L248.5 189.2L248.8 190.9L249.0 192.5L249.2 194.3L249.4 196.0L249.6 197.3L249.7 198.7L249.9 200.1L250.1 201.6L250.2 203.1L250.4 204.6L250.6 206.1L250.7 207.6L250.9 209.2L251.1 210.8L251.3 212.3L251.4 213.9L251.6 215.5L251.8 217.1L252.0 218.7L252.2 220.3L252.3 221.9L252.5 223.4L252.7 225.0L252.9 226.5L253.1 228.0L253.3 229.5L253.5 231.0L253.7 232.4L253.9 234.0L254.1 235.6L254.3 237.1L254.5 238.7L254.7 240.2L254.9 241.8L255.1 243.3L255.3 244.8L255.5 246.3L255.7 247.8L256.0 249.3L256.2 250.8L256.4 252.2L256.6 253.7L256.9 255.1L257.1 256.5L257.4 257.9L257.6 259.3L257.9 260.6L258.2 262.2L258.6 263.8L258.9 265.3L259.3 266.8L259.7 268.3L260.1 269.8L260.4 271.2L260.8 272.7L261.2 274.1L261.6 275.6L262.0 277.0L262.4 278.5L262.8 280.0L263.2 281.5L263.6 283.1L264.0 284.6L264.4 286.1L264.8 287.7L265.2 289.2L265.6 290.8L266.0 292.3L266.4 293.9L266.8 295.4L267.3 296.9L267.7 298.5L268.2 300.0L268.7 301.4L269.1 302.9L269.6 304.4L270.1 305.8L270.6 307.3L271.2 308.8L271.7 310.2L272.2 311.7L272.8 313.1L273.3 314.6L273.8 316.0L274.4 317.3L274.9 318.7L275.4 320.0L276.0 321.5L276.6 323.0L277.1 324.4L277.7 325.9L278.2 327.3L278.8 328.6L279.4 330.0L280.0 331.4L280.7 332.7L281.4 334.1L282.1 335.4L282.9 336.7L283.7 338.0L284.5 339.3L285.3 340.6L286.2 341.8L287.0 343.1L287.9 344.4L288.8 345.7L289.7 346.9L290.6 348.2L291.5 349.5L292.4 350.8L293.4 352.1L294.3 353.4L295.2 354.7L296.2 356.0L297.2 357.3L298.2 358.6L299.2 359.9L300.2 361.1L301.2 362.4L302.2 363.6L303.1 364.7L304.1 365.9L305.1 367.1L306.1 368.2L307.2 369.4L308.2 370.5L309.3 371.6L310.3 372.7L311.4 373.8L312.5 374.8L313.6 375.8L314.8 376.8L316.0 377.8L317.3 378.8L318.6 379.8L319.8 380.7L321.1 381.6L322.4 382.5L323.8 383.4L325.1 384.2L326.4 385.1L327.7 385.9L329.1 386.7L330.5 387.6L331.9 388.4L333.3 389.1L334.7 389.9L336.1 390.6L337.5 391.3L338.9 392.0L340.4 392.7L341.8 393.4L343.2 394.0L344.6 394.7L346.0 395.3L347.4 395.9L348.8 396.4L350.2 397.0L351.6 397.5L353.1 398.1L354.5 398.6L355.9 399.1L357.4 399.6L359.0 400.1L360.5 400.6L362.0 401.1L363.6 401.5L365.1 402.0L366.7 402.4L368.3 402.9L370.0 403.3L371.4 403.7L372.9 404.1L374.3 404.4L375.7 404.8L377.2 405.2L378.7 405.5L380.2 405.9L381.8 406.2L383.4 406.6L385.2 407.0L387.0 407.3L388.9 407.7L390.0 407.9L391.2 408.1L392.5 408.3L393.7 408.6L395.0 408.8L396.3 409.0L397.7 409.2L399.1 409.5L400.5 409.7L401.9 409.9L403.4 410.2L404.8 410.4L406.3 410.6L407.9 410.9L409.4 411.1L411.0 411.3L412.5 411.6L414.1 411.8L415.7 412.0L417.3 412.2L419.0 412.5L420.6 412.7L422.2 412.9L423.9 413.1L425.5 413.3L427.2 413.6L428.8 413.8L430.5 414.0L432.1 414.2L433.8 414.4L435.4 414.6L437.0 414.8L438.7 414.9L440.3 415.1L441.9 415.3L443.3 415.5L444.8 415.6L446.2 415.7L447.6 415.9L449.1 416.0L450.6 416.2L452.0 416.3L453.5 416.4L455.0 416.5L456.5 416.7L458.0 416.8L459.5 416.9L461.0 417.0L462.5 417.1L464.0 417.2L465.5 417.3L467.0 417.4L468.5 417.5L470.0 417.6L471.6 417.7L473.1 417.8L474.6 417.9L476.2 418.0L477.7 418.1L479.2 418.2L480.8 418.3L482.3 418.4L483.8 418.5L485.4 418.6L486.9 418.7L488.4 418.8L490.0 418.9L491.5 419.0L493.1 419.1L494.6 419.2L496.1 419.3L497.7 419.4L499.2 419.5L500.7 419.6L502.2 419.7L503.8 419.8L505.3 419.9L506.8 420.0L508.3 420.1M508.5 562.0L508.7 563.6L508.8 565.2L509.0 566.8L509.1 568.4L509.3 570.0L509.5 571.6L509.6 573.2L509.8 574.8L510.0 576.4L510.3 578.0L510.6 579.5L510.9 581.1L511.2 582.6L511.5 584.1L511.9 585.6L512.2 587.1L512.6 588.6L513.0 590.1L513.4 591.6L513.8 593.0L514.2 594.5L514.7 595.9L515.1 597.4L515.5 598.8L516.0 600.2L516.5 601.6L517.1 603.0L517.7 604.5L518.4 606.0L519.0 607.3L519.7 608.6L520.4 610.0L521.1 611.3L521.9 612.7L522.7 614.1L523.6 615.5L524.4 616.9L525.3 618.2L526.3 619.6L527.2 621.0L528.2 622.3L529.2 623.6L530.1 624.8L531.1 625.9L532.0 627.1L533.0 628.2L534.0 629.4L535.0 630.6L536.1 631.7L537.2 632.8L538.3 633.9L539.4 635.1L540.6 636.1L541.7 637.2L543.0 638.3L544.2 639.3L545.5 640.3L546.8 641.3L548.0 642.1L549.2 643.0L550.4 643.8L551.7 644.6L553.0 645.4L554.3 646.2L555.7 647.0L557.0 647.8L558.4 648.5L559.8 649.2L561.2 650.0L562.7 650.7L564.1 651.4L565.6 652.0L567.1 652.7L568.5 653.4L570.0 654.0L571.5 654.6L573.0 655.2L574.5 655.7L576.0 656.3L577.4 656.8L578.8 657.3L580.2 657.7L581.6 658.1L583.0 658.5L584.5 658.9L585.9 659.3L587.4 659.7L588.9 660.0L590.4 660.4L591.8 660.7L593.3 661.0L594.8 661.3L596.3 661.6L597.8 661.9L599.3 662.2L600.8 662.5L602.3 662.7L603.8 663.0L605.3 663.2L606.8 663.5L608.3 663.7L609.8 664.0L611.3 664.2L612.8 664.4L614.3 664.7L615.8 664.9L617.3 665.1L618.8 665.3L620.3 665.5L621.8 665.6L623.3 665.8L624.8 666.0L626.2 666.1L627.7 666.3L629.2 666.4L630.7 666.5L632.2 666.7L633.8 666.8L635.3 666.9L636.9 667.0L638.4 667.2L640.0 667.3L641.6 667.4L643.3 667.5L644.9 667.7L646.6 667.8L648.0 667.9L649.3 668.0L650.7 668.1L652.1 668.2L653.6 668.3L655.0 668.4L656.4 668.5L657.9 668.7L659.4 668.8L660.8 668.9L662.3 669.0L663.8 669.1L665.3 669.2L666.8 669.3L668.3 669.4L669.9 669.4L671.4 669.5L672.9 669.6L674.5 669.7L676.0 669.8L677.6 669.9L679.1 670.0L680.7 670.1L682.3 670.1L683.8 670.2L685.4 670.3L687.0 670.4L688.6 670.5L690.1 670.5L691.7 670.6L693.3 670.7L694.9 670.7L696.5 670.8L698.0 670.8L699.6 670.9L701.1 670.9L702.5 671.0L704.0 671.0L705.5 671.1L707.0 671.1L708.4 671.1L709.9 671.2L711.5 671.2L713.0 671.2L714.5 671.2L716.0 671.3L717.5 671.3L719.1 671.3L720.6 671.3L722.1 671.3L723.7 671.3L725.2 671.4L726.8 671.4L728.3 671.4L729.8 671.4L731.4 671.4L732.9 671.4L734.5 671.4L736.0 671.4L737.5 671.4L739.1 671.4L740.6 671.4L742.1 671.4L743.7 671.4L745.2 671.4L746.7 671.5L748.2 671.5L749.7 671.5L751.2 671.5L752.7 671.5L754.1 671.5L755.6 671.5L757.1 671.5L758.5 671.6L760.0 671.6L761.4 671.6L763.0 671.6L764.6 671.7L766.2 671.7L767.9 671.7L769.5 671.8L771.2 671.8L772.8 671.8L774.5 671.9L776.1 671.9L777.8 671.9L779.4 672.0L781.0 672.0L782.7 672.1L784.3 672.1L785.9 672.1L787.5 672.2L789.1 672.2L790.7 672.3L792.3 672.3L793.8 672.3L795.3 672.4L796.8 672.4L798.3 672.5L799.7 672.5L801.2 672.5L802.5 672.6L803.9 672.6L805.2 672.6L806.5 672.6L807.8 672.7L809.0 672.7L810.2 672.7L811.3 672.7L813.2 672.7L814.9 672.7L816.6 672.7L818.1 672.7L819.6 672.7L821.0 672.7L822.4 672.7L823.8 672.7L825.2 672.7L826.7 672.7L828.2 672.7M828.2 672.7L828.2 671.1L828.2 669.6L828.2 668.1L828.2 666.5L828.2 665.0L828.3 663.4L828.3 661.7L828.3 660.0L828.3 658.6L828.4 657.3L828.4 655.9L828.4 654.4L828.4 653.0L828.5 651.5L828.5 650.0L828.6 648.5L828.6 646.9L828.7 645.2L828.7 643.6L828.8 641.8L828.9 640.0L829.0 638.7L829.0 637.5L829.1 636.1L829.2 634.8L829.2 633.4L829.3 631.9L829.4 630.5L829.5 629.0L829.5 627.5L829.6 626.0L829.7 624.4L829.8 622.9L829.9 621.3L830.0 619.7L830.1 618.1L830.2 616.4L830.3 614.8L830.4 613.2L830.5 611.5L830.6 609.9L830.8 608.3L830.9 606.6L831.0 605.0L831.1 603.4L831.3 601.8L831.4 600.1L831.5 598.5L831.7 597.0L831.8 595.4L831.9 593.9L832.1 592.4L832.2 590.8L832.4 589.3L832.5 587.7L832.7 586.1L832.8 584.5L833.0 582.9L833.2 581.3L833.3 579.7L833.5 578.1L833.7 576.5L833.8 574.9L834.0 573.3L834.2 571.7L834.4 570.1L834.5 568.5L834.7 566.9L834.9 565.4L835.1 563.8L835.3 562.3L835.5 560.8L835.7 559.3L835.9 557.8L836.1 556.4L836.3 555.0L836.5 553.6L836.7 552.2L836.9 550.9L837.1 549.6L837.3 548.3L837.6 546.6L837.9 545.0L838.1 543.4L838.4 541.8L838.7 540.3L839.0 538.8L839.2 537.4L839.5 536.0L839.8 534.6L840.1 533.2L840.5 531.8L840.8 530.4L841.2 529.0L841.6 527.7L842.0 526.2L842.4 524.8L842.9 523.3L843.3 521.8L843.8 520.3L844.4 518.7L844.9 517.2L845.4 515.7L846.0 514.2L846.6 512.7L847.2 511.2L847.8 509.7L848.4 508.2L849.1 506.8L849.8 505.4L850.4 504.0L851.2 502.6L851.9 501.3L852.7 499.9L853.6 498.5L854.5 497.1L855.4 495.7L856.3 494.4L857.3 493.1L858.3 491.8L859.3 490.6L860.3 489.4L861.4 488.2L862.5 487.0L863.6 485.9L864.8 484.8L866.0 483.8L867.2 482.8L868.4 481.9L869.7 480.9L871.0 480.0L872.3 479.2L873.6 478.3L875.0 477.5L876.4 476.7L877.8 475.9L879.2 475.2L880.7 474.4L882.1 473.7L883.6 473.0L885.0 472.4L886.4 471.7L887.8 471.2L889.2 470.6L890.6 470.0L892.1 469.5L893.5 469.0L895.0 468.5L896.5 468.0L898.0 467.5L899.5 467.1L901.0 466.6L902.6 466.1L904.1 465.7L905.6 465.2L907.2 464.8L908.6 464.4L910.0 464.0L911.4 463.6L912.8 463.3L914.2 462.9L915.6 462.5L917.1 462.2L918.5 461.8L919.9 461.5L921.4 461.2L922.8 460.9L924.3 460.5L925.8 460.2L927.4 459.9L928.9 459.6L930.5 459.3L932.1 459.0L933.7 458.7L935.4 458.4L936.7 458.2L938.1 457.9L939.5 457.7L940.9 457.5L942.3 457.3L943.7 457.1L945.2 456.9L946.7 456.7L948.2 456.4L949.7 456.2L951.2 456.0L952.7 455.9L954.3 455.7L955.8 455.5L957.4 455.3L959.0 455.1L960.5 454.9L962.1 454.7L963.7 454.5L965.3 454.4L966.9 454.2L968.5 454.0L970.0 453.8L971.6 453.7L973.2 453.5L974.8 453.3L976.3 453.2L977.9 453.0L979.4 452.8L981.0 452.7L982.5 452.5L984.0 452.3L985.6 452.2L987.1 452.0L988.7 451.8L990.3 451.7L991.9 451.5L993.5 451.4L995.1 451.2L996.7 451.0L998.4 450.9L1000.0 450.7L1001.6 450.6L1003.2 450.4L1004.8 450.3L1006.5 450.1L1008.1 450.0L1009.6 449.8L1011.2 449.7L1012.8 449.5L1014.3 449.4L1015.8 449.3L1017.3 449.2L1018.8 449.0L1020.3 448.9L1021.7 448.8L1023.1 448.7L1024.5 448.6L1025.8 448.5L1027.1 448.5L1028.4 448.4L1029.6 448.3L1031.4 448.2L1033.1 448.1L1034.7 448.1L1036.2 448.1L1037.6 448.0L1039.1 448.0L1040.5 448.0L1041.9 448.0L1043.3 448.0L1044.9 448.0L1046.5 447.9L1048.2 447.9L1050.0 447.8L1051.2 447.7L1052.4 447.7L1053.7 447.6L1055.0 447.6L1056.3 447.5L1057.7 447.4L1059.1 447.3L1060.5 447.2L1062.0 447.1L1063.4 447.0L1064.9 447.0L1066.4 446.9L1068.0 446.8L1069.5 446.7L1071.1 446.5L1072.7 446.4L1074.2 446.3L1075.8 446.2L1077.4 446.1L1079.1 446.0L1080.7 445.9L1082.3 445.8L1083.9 445.7L1085.6 445.6L1087.2 445.5L1088.8 445.4L1090.4 445.3L1092.1 445.2L1093.7 445.1L1095.3 445.0L1096.9 445.0L1098.4 444.9L1100.0 444.8L1101.5 444.7L1103.0 444.7L1104.4 444.6L1105.9 444.5L1107.4 444.5L1108.9 444.4L1110.4 444.4L1111.9 444.3L1113.4 444.2L1114.9 444.2L1116.5 444.1L1118.0 444.1L1119.5 444.0L1121.0 444.0L1122.5 443.9L1124.1 443.9L1125.6 443.8L1127.1 443.8L1128.7 443.7L1130.2 443.7L1131.7 443.6L1133.3 443.6L1134.8 443.6L1136.3 443.5L1137.8 443.5L1139.4 443.4L1140.9 443.4L1142.4 443.3L1143.9 443.3L1145.5 443.3L1147.0 443.2L1148.5 443.2L1150.0 443.1L1151.5 443.1L1153.0 443.1L1154.5 443.0L1156.0 443.0L1157.5 443.0L1159.1 442.9L1160.6 442.9L1162.1 442.9L1163.6 442.8L1165.2 442.8L1166.7 442.8L1168.2 442.7L1169.7 442.7L1171.2 442.7L1172.8 442.7L1174.3 442.6L1175.8 442.6L1177.3 442.6L1178.8 442.6L1180.3 442.5L1181.8 442.5L1183.3 442.5L1184.9 442.5L1186.4 442.5L1187.9 442.4L1189.4 442.4L1190.9 442.4L1192.4 442.4L1193.9 442.4L1195.4 442.3L1196.9 442.3L1198.4 442.3L1199.9 442.3L1201.4 442.2L1203.0 442.2L1204.5 442.2L1206.0 442.2L1207.5 442.1L1209.0 442.1L1210.5 442.1L1212.0 442.0L1213.6 442.0L1215.1 442.0L1216.6 441.9L1218.2 441.9L1219.7 441.9L1221.3 441.8L1222.8 441.8L1224.4 441.7L1226.0 441.7L1227.5 441.7L1229.1 441.6L1230.6 441.6L1232.2 441.5L1233.7 441.5L1235.3 441.4L1236.8 441.4L1238.4 441.4L1239.9 441.3L1241.4 441.3L1243.0 441.3L1244.5 441.2L1246.0 441.2L1247.5 441.1L1249.0 441.1L1250.5 441.1L1252.0 441.1L1253.4 441.0L1254.9 441.0L1256.3 441.0L1257.8 441.0L1259.2 440.9L1260.6 440.9L1262.0 440.9L1263.6 440.9L1265.2 440.9L1266.8 440.9L1268.3 440.9L1269.9 440.9L1271.4 440.9L1272.9 440.9L1274.3 440.9L1275.8 440.9L1277.2 440.9L1278.7 440.9L1280.1 440.9L1281.6 440.9L1283.0 441.0L1284.5 441.0L1285.9 441.0L1287.4 441.0L1288.9 441.0L1290.4 441.0L1291.9 441.0L1293.5 441.0L1295.1 441.0L1296.7 441.0L1298.3 441.0L1300.0 441.0L1301.3 441.0L1302.7 441.0L1304.0 441.0L1305.4 441.0L1306.8 440.9L1308.2 440.9L1309.6 440.9L1311.0 440.9L1312.5 440.9L1313.9 440.9L1315.3 440.8L1316.8 440.8L1318.3 440.8L1319.7 440.8L1321.2 440.7L1322.7 440.7L1324.2 440.7L1325.7 440.7L1327.2 440.6L1328.7 440.6L1330.3 440.6L1331.8 440.6L1333.3 440.5L1334.9 440.5L1336.4 440.5L1338.0 440.5L1339.5 440.4L1341.1 440.4L1342.7 440.4L1344.2 440.3L1345.8 440.3L1347.4 440.3L1348.9 440.3L1350.5 440.2L1352.1 440.2L1353.7 440.2L1355.3 440.2L1356.8 440.1L1358.4 440.1L1360.0 440.1L1361.4 440.1L1362.9 440.1L1364.3 440.0L1365.8 440.0L1367.3 440.0L1368.7 440.0L1370.2 440.0L1371.7 439.9L1373.2 439.9L1374.6 439.9L1376.1 439.9L1377.6 439.9L1379.1 439.9L1380.7 439.8L1382.2 439.8L1383.7 439.8L1385.2 439.8L1386.7 439.8L1388.2 439.7L1389.8 439.7L1391.3 439.7L1392.8 439.7L1394.4 439.7L1395.9 439.6L1397.4 439.6L1399.0 439.6L1400.5 439.6L1402.1 439.6L1403.6 439.6L1405.1 439.5L1406.7 439.5L1408.2 439.5L1409.8 439.5L1411.3 439.5L1412.8 439.4L1414.4 439.4L1415.9 439.4L1417.5 439.4L1419.0 439.4L1420.5 439.4L1422.0 439.3L1423.6 439.3L1425.1 439.3L1426.6 439.3L1428.2 439.3L1429.7 439.3L1431.2 439.2L1432.7 439.2L1434.2 439.2L1435.7 439.2L1437.2 439.2L1438.8 439.1L1440.3 439.1L1441.9 439.1L1443.4 439.1L1445.0 439.1L1446.5 439.1L1448.1 439.0L1449.7 439.0L1451.2 439.0L1452.8 439.0L1454.4 439.0L1455.9 439.0L1457.5 438.9L1459.1 438.9L1460.7 438.9L1462.2 438.9L1463.8 438.9L1465.4 438.8L1466.9 438.8L1468.5 438.8L1470.1 438.8L1471.6 438.8L1473.2 438.8L1474.7 438.7L1476.2 438.7L1477.8 438.7L1479.3 438.7L1480.8 438.7L1482.4 438.7L1483.9 438.6L1485.4 438.6L1486.9 438.6L1488.3 438.6L1489.8 438.6L1491.3 438.6L1492.7 438.5L1494.2 438.5L1495.6 438.5L1497.0 438.5L1498.4 438.5L1499.8 438.5L1501.2 438.5L1502.6 438.4L1503.9 438.4L1505.3 438.4L1506.6 438.4L1508.3 438.4L1510.0 438.4L1511.7 438.3L1513.4 438.3L1515.0 438.3L1516.6 438.3L1518.2 438.3L1519.8 438.3L1521.4 438.3L1522.9 438.2L1524.4 438.2L1526.0 438.2L1527.5 438.2L1529.0 438.2L1530.5 438.2L1532.0 438.2L1533.5 438.1L1535.0 438.1L1536.4 438.1L1537.9 438.1L1539.4 438.1L1540.9 438.1L1542.4 438.1L1543.9 438.1L1545.4 438.0L1546.9 438.0L1548.5 438.0L1550.0 438.0"/>
<path transform="translate(0.30 0)" d="M242.4 111.0L242.5 112.6L242.6 114.2L242.7 115.8L242.8 117.4L242.8 119.0L242.9 120.6L243.0 122.2L243.1 123.8L243.2 125.4L243.3 127.0L243.4 128.6L243.5 130.2L243.6 131.8L243.7 133.4L243.8 135.0L243.9 136.6L244.1 138.2L244.2 139.8L244.3 141.4L244.4 143.0L244.5 144.5L244.6 146.0L244.7 147.5L244.8 149.0L244.9 150.5L245.1 152.0L245.2 153.5L245.3 155.0L245.4 156.5L245.5 158.0L245.6 159.6L245.7 161.1L245.8 162.7L245.9 164.2L246.0 165.8L246.1 167.4L246.3 169.0L246.4 170.6L246.5 172.3L246.7 174.0L246.8 175.5L247.0 176.9L247.2 178.4L247.4 179.9L247.5 181.4L247.7 182.9L247.9 184.4L248.1 186.0L248.3 187.6L248.5 189.2L248.8 190.9L249.0 192.5L249.2 194.3L249.4 196.0L249.6 197.3L249.7 198.7L249.9 200.1L250.1 201.6L250.2 203.1L250.4 204.6L250.6 206.1L250.7 207.6L250.9 209.2L251.1 210.8L251.3 212.3L251.4 213.9L251.6 215.5L251.8 217.1L252.0 218.7L252.2 220.3L252.3 221.9L252.5 223.4L252.7 225.0L252.9 226.5L253.1 228.0L253.3 229.5L253.5 231.0L253.7 232.4L253.9 234.0L254.1 235.6L254.3 237.1L254.5 238.7L254.7 240.2L254.9 241.8L255.1 243.3L255.3 244.8L255.5 246.3L255.7 247.8L256.0 249.3L256.2 250.8L256.4 252.2L256.6 253.7L256.9 255.1L257.1 256.5L257.4 257.9L257.6 259.3L257.9 260.6L258.2 262.2L258.6 263.8L258.9 265.3L259.3 266.8L259.7 268.3L260.1 269.8L260.4 271.2L260.8 272.7L261.2 274.1L261.6 275.6L262.0 277.0L262.4 278.5L262.8 280.0L263.2 281.5L263.6 283.1L264.0 284.6L264.4 286.1L264.8 287.7L265.2 289.2L265.6 290.8L266.0 292.3L266.4 293.9L266.8 295.4L267.3 296.9L267.7 298.5L268.2 300.0L268.7 301.4L269.1 302.9L269.6 304.4L270.1 305.8L270.6 307.3L271.2 308.8L271.7 310.2L272.2 311.7L272.8 313.1L273.3 314.6L273.8 316.0L274.4 317.3L274.9 318.7L275.4 320.0L276.0 321.5L276.6 323.0L277.1 324.4L277.7 325.9L278.2 327.3L278.8 328.6L279.4 330.0L280.0 331.4L280.7 332.7L281.4 334.1L282.1 335.4L282.9 336.7L283.7 338.0L284.5 339.3L285.3 340.6L286.2 341.8L287.0 343.1L287.9 344.4L288.8 345.7L289.7 346.9L290.6 348.2L291.5 349.5L292.4 350.8L293.4 352.1L294.3 353.4L295.2 354.7L296.2 356.0L297.2 357.3L298.2 358.6L299.2 359.9L300.2 361.1L301.2 362.4L302.2 363.6L303.1 364.7L304.1 365.9L305.1 367.1L306.1 368.2L307.2 369.4L308.2 370.5L309.3 371.6L310.3 372.7L311.4 373.8L312.5 374.8L313.6 375.8L314.8 376.8L316.0 377.8L317.3 378.8L318.6 379.8L319.8 380.7L321.1 381.6L322.4 382.5L323.8 383.4L325.1 384.2L326.4 385.1L327.7 385.9L329.1 386.7L330.5 387.6L331.9 388.4L333.3 389.1L334.7 389.9L336.1 390.6L337.5 391.3L338.9 392.0L340.4 392.7L341.8 393.4L343.2 394.0L344.6 394.7L346.0 395.3L347.4 395.9L348.8 396.4L350.2 397.0L351.6 397.5L353.1 398.1L354.5 398.6L355.9 399.1L357.4 399.6L359.0 400.1L360.5 400.6L362.0 401.1L363.6 401.5L365.1 402.0L366.7 402.4L368.3 402.9L370.0 403.3L371.4 403.7L372.9 404.1L374.3 404.4L375.7 404.8L377.2 405.2L378.7 405.5L380.2 405.9L381.8 406.2L383.4 406.6L385.2 407.0L387.0 407.3L388.9 407.7L390.0 407.9L391.2 408.1L392.5 408.3L393.7 408.6L395.0 408.8L396.3 409.0L397.7 409.2L399.1 409.5L400.5 409.7L401.9 409.9L403.4 410.2L404.8 410.4L406.3 410.6L407.9 410.9L409.4 411.1L411.0 411.3L412.5 411.6L414.1 411.8L415.7 412.0L417.3 412.2L419.0 412.5L420.6 412.7L422.2 412.9L423.9 413.1L425.5 413.3L427.2 413.6L428.8 413.8L430.5 414.0L432.1 414.2L433.8 414.4L435.4 414.6L437.0 414.8L438.7 414.9L440.3 415.1L441.9 415.3L443.3 415.5L444.8 415.6L446.2 415.7L447.6 415.9L449.1 416.0L450.6 416.2L452.0 416.3L453.5 416.4L455.0 416.5L456.5 416.7L458.0 416.8L459.5 416.9L461.0 417.0L462.5 417.1L464.0 417.2L465.5 417.3L467.0 417.4L468.5 417.5L470.0 417.6L471.6 417.7L473.1 417.8L474.6 417.9L476.2 418.0L477.7 418.1L479.2 418.2L480.8 418.3L482.3 418.4L483.8 418.5L485.4 418.6L486.9 418.7L488.4 418.8L490.0 418.9L491.5 419.0L493.1 419.1L494.6 419.2L496.1 419.3L497.7 419.4L499.2 419.5L500.7 419.6L502.2 419.7L503.8 419.8L505.3 419.9L506.8 420.0L508.3 420.1M508.5 562.0L508.7 563.6L508.8 565.2L509.0 566.8L509.1 568.4L509.3 570.0L509.5 571.6L509.6 573.2L509.8 574.8L510.0 576.4L510.3 578.0L510.6 579.5L510.9 581.1L511.2 582.6L511.5 584.1L511.9 585.6L512.2 587.1L512.6 588.6L513.0 590.1L513.4 591.6L513.8 593.0L514.2 594.5L514.7 595.9L515.1 597.4L515.5 598.8L516.0 600.2L516.5 601.6L517.1 603.0L517.7 604.5L518.4 606.0L519.0 607.3L519.7 608.6L520.4 610.0L521.1 611.3L521.9 612.7L522.7 614.1L523.6 615.5L524.4 616.9L525.3 618.2L526.3 619.6L527.2 621.0L528.2 622.3L529.2 623.6L530.1 624.8L531.1 625.9L532.0 627.1L533.0 628.2L534.0 629.4L535.0 630.6L536.1 631.7L537.2 632.8L538.3 633.9L539.4 635.1L540.6 636.1L541.7 637.2L543.0 638.3L544.2 639.3L545.5 640.3L546.8 641.3L548.0 642.1L549.2 643.0L550.4 643.8L551.7 644.6L553.0 645.4L554.3 646.2L555.7 647.0L557.0 647.8L558.4 648.5L559.8 649.2L561.2 650.0L562.7 650.7L564.1 651.4L565.6 652.0L567.1 652.7L568.5 653.4L570.0 654.0L571.5 654.6L573.0 655.2L574.5 655.7L576.0 656.3L577.4 656.8L578.8 657.3L580.2 657.7L581.6 658.1L583.0 658.5L584.5 658.9L585.9 659.3L587.4 659.7L588.9 660.0L590.4 660.4L591.8 660.7L593.3 661.0L594.8 661.3L596.3 661.6L597.8 661.9L599.3 662.2L600.8 662.5L602.3 662.7L603.8 663.0L605.3 663.2L606.8 663.5L608.3 663.7L609.8 664.0L611.3 664.2L612.8 664.4L614.3 664.7L615.8 664.9L617.3 665.1L618.8 665.3L620.3 665.5L621.8 665.6L623.3 665.8L624.8 666.0L626.2 666.1L627.7 666.3L629.2 666.4L630.7 666.5L632.2 666.7L633.8 666.8L635.3 666.9L636.9 667.0L638.4 667.2L640.0 667.3L641.6 667.4L643.3 667.5L644.9 667.7L646.6 667.8L648.0 667.9L649.3 668.0L650.7 668.1L652.1 668.2L653.6 668.3L655.0 668.4L656.4 668.5L657.9 668.7L659.4 668.8L660.8 668.9L662.3 669.0L663.8 669.1L665.3 669.2L666.8 669.3L668.3 669.4L669.9 669.4L671.4 669.5L672.9 669.6L674.5 669.7L676.0 669.8L677.6 669.9L679.1 670.0L680.7 670.1L682.3 670.1L683.8 670.2L685.4 670.3L687.0 670.4L688.6 670.5L690.1 670.5L691.7 670.6L693.3 670.7L694.9 670.7L696.5 670.8L698.0 670.8L699.6 670.9L701.1 670.9L702.5 671.0L704.0 671.0L705.5 671.1L707.0 671.1L708.4 671.1L709.9 671.2L711.5 671.2L713.0 671.2L714.5 671.2L716.0 671.3L717.5 671.3L719.1 671.3L720.6 671.3L722.1 671.3L723.7 671.3L725.2 671.4L726.8 671.4L728.3 671.4L729.8 671.4L731.4 671.4L732.9 671.4L734.5 671.4L736.0 671.4L737.5 671.4L739.1 671.4L740.6 671.4L742.1 671.4L743.7 671.4L745.2 671.4L746.7 671.5L748.2 671.5L749.7 671.5L751.2 671.5L752.7 671.5L754.1 671.5L755.6 671.5L757.1 671.5L758.5 671.6L760.0 671.6L761.4 671.6L763.0 671.6L764.6 671.7L766.2 671.7L767.9 671.7L769.5 671.8L771.2 671.8L772.8 671.8L774.5 671.9L776.1 671.9L777.8 671.9L779.4 672.0L781.0 672.0L782.7 672.1L784.3 672.1L785.9 672.1L787.5 672.2L789.1 672.2L790.7 672.3L792.3 672.3L793.8 672.3L795.3 672.4L796.8 672.4L798.3 672.5L799.7 672.5L801.2 672.5L802.5 672.6L803.9 672.6L805.2 672.6L806.5 672.6L807.8 672.7L809.0 672.7L810.2 672.7L811.3 672.7L813.2 672.7L814.9 672.7L816.6 672.7L818.1 672.7L819.6 672.7L821.0 672.7L822.4 672.7L823.8 672.7L825.2 672.7L826.7 672.7L828.2 672.7M828.2 672.7L828.2 671.1L828.2 669.6L828.2 668.1L828.2 666.5L828.2 665.0L828.3 663.4L828.3 661.7L828.3 660.0L828.3 658.6L828.4 657.3L828.4 655.9L828.4 654.4L828.4 653.0L828.5 651.5L828.5 650.0L828.6 648.5L828.6 646.9L828.7 645.2L828.7 643.6L828.8 641.8L828.9 640.0L829.0 638.7L829.0 637.5L829.1 636.1L829.2 634.8L829.2 633.4L829.3 631.9L829.4 630.5L829.5 629.0L829.5 627.5L829.6 626.0L829.7 624.4L829.8 622.9L829.9 621.3L830.0 619.7L830.1 618.1L830.2 616.4L830.3 614.8L830.4 613.2L830.5 611.5L830.6 609.9L830.8 608.3L830.9 606.6L831.0 605.0L831.1 603.4L831.3 601.8L831.4 600.1L831.5 598.5L831.7 597.0L831.8 595.4L831.9 593.9L832.1 592.4L832.2 590.8L832.4 589.3L832.5 587.7L832.7 586.1L832.8 584.5L833.0 582.9L833.2 581.3L833.3 579.7L833.5 578.1L833.7 576.5L833.8 574.9L834.0 573.3L834.2 571.7L834.4 570.1L834.5 568.5L834.7 566.9L834.9 565.4L835.1 563.8L835.3 562.3L835.5 560.8L835.7 559.3L835.9 557.8L836.1 556.4L836.3 555.0L836.5 553.6L836.7 552.2L836.9 550.9L837.1 549.6L837.3 548.3L837.6 546.6L837.9 545.0L838.1 543.4L838.4 541.8L838.7 540.3L839.0 538.8L839.2 537.4L839.5 536.0L839.8 534.6L840.1 533.2L840.5 531.8L840.8 530.4L841.2 529.0L841.6 527.7L842.0 526.2L842.4 524.8L842.9 523.3L843.3 521.8L843.8 520.3L844.4 518.7L844.9 517.2L845.4 515.7L846.0 514.2L846.6 512.7L847.2 511.2L847.8 509.7L848.4 508.2L849.1 506.8L849.8 505.4L850.4 504.0L851.2 502.6L851.9 501.3L852.7 499.9L853.6 498.5L854.5 497.1L855.4 495.7L856.3 494.4L857.3 493.1L858.3 491.8L859.3 490.6L860.3 489.4L861.4 488.2L862.5 487.0L863.6 485.9L864.8 484.8L866.0 483.8L867.2 482.8L868.4 481.9L869.7 480.9L871.0 480.0L872.3 479.2L873.6 478.3L875.0 477.5L876.4 476.7L877.8 475.9L879.2 475.2L880.7 474.4L882.1 473.7L883.6 473.0L885.0 472.4L886.4 471.7L887.8 471.2L889.2 470.6L890.6 470.0L892.1 469.5L893.5 469.0L895.0 468.5L896.5 468.0L898.0 467.5L899.5 467.1L901.0 466.6L902.6 466.1L904.1 465.7L905.6 465.2L907.2 464.8L908.6 464.4L910.0 464.0L911.4 463.6L912.8 463.3L914.2 462.9L915.6 462.5L917.1 462.2L918.5 461.8L919.9 461.5L921.4 461.2L922.8 460.9L924.3 460.5L925.8 460.2L927.4 459.9L928.9 459.6L930.5 459.3L932.1 459.0L933.7 458.7L935.4 458.4L936.7 458.2L938.1 457.9L939.5 457.7L940.9 457.5L942.3 457.3L943.7 457.1L945.2 456.9L946.7 456.7L948.2 456.4L949.7 456.2L951.2 456.0L952.7 455.9L954.3 455.7L955.8 455.5L957.4 455.3L959.0 455.1L960.5 454.9L962.1 454.7L963.7 454.5L965.3 454.4L966.9 454.2L968.5 454.0L970.0 453.8L971.6 453.7L973.2 453.5L974.8 453.3L976.3 453.2L977.9 453.0L979.4 452.8L981.0 452.7L982.5 452.5L984.0 452.3L985.6 452.2L987.1 452.0L988.7 451.8L990.3 451.7L991.9 451.5L993.5 451.4L995.1 451.2L996.7 451.0L998.4 450.9L1000.0 450.7L1001.6 450.6L1003.2 450.4L1004.8 450.3L1006.5 450.1L1008.1 450.0L1009.6 449.8L1011.2 449.7L1012.8 449.5L1014.3 449.4L1015.8 449.3L1017.3 449.2L1018.8 449.0L1020.3 448.9L1021.7 448.8L1023.1 448.7L1024.5 448.6L1025.8 448.5L1027.1 448.5L1028.4 448.4L1029.6 448.3L1031.4 448.2L1033.1 448.1L1034.7 448.1L1036.2 448.1L1037.6 448.0L1039.1 448.0L1040.5 448.0L1041.9 448.0L1043.3 448.0L1044.9 448.0L1046.5 447.9L1048.2 447.9L1050.0 447.8L1051.2 447.7L1052.4 447.7L1053.7 447.6L1055.0 447.6L1056.3 447.5L1057.7 447.4L1059.1 447.3L1060.5 447.2L1062.0 447.1L1063.4 447.0L1064.9 447.0L1066.4 446.9L1068.0 446.8L1069.5 446.7L1071.1 446.5L1072.7 446.4L1074.2 446.3L1075.8 446.2L1077.4 446.1L1079.1 446.0L1080.7 445.9L1082.3 445.8L1083.9 445.7L1085.6 445.6L1087.2 445.5L1088.8 445.4L1090.4 445.3L1092.1 445.2L1093.7 445.1L1095.3 445.0L1096.9 445.0L1098.4 444.9L1100.0 444.8L1101.5 444.7L1103.0 444.7L1104.4 444.6L1105.9 444.5L1107.4 444.5L1108.9 444.4L1110.4 444.4L1111.9 444.3L1113.4 444.2L1114.9 444.2L1116.5 444.1L1118.0 444.1L1119.5 444.0L1121.0 444.0L1122.5 443.9L1124.1 443.9L1125.6 443.8L1127.1 443.8L1128.7 443.7L1130.2 443.7L1131.7 443.6L1133.3 443.6L1134.8 443.6L1136.3 443.5L1137.8 443.5L1139.4 443.4L1140.9 443.4L1142.4 443.3L1143.9 443.3L1145.5 443.3L1147.0 443.2L1148.5 443.2L1150.0 443.1L1151.5 443.1L1153.0 443.1L1154.5 443.0L1156.0 443.0L1157.5 443.0L1159.1 442.9L1160.6 442.9L1162.1 442.9L1163.6 442.8L1165.2 442.8L1166.7 442.8L1168.2 442.7L1169.7 442.7L1171.2 442.7L1172.8 442.7L1174.3 442.6L1175.8 442.6L1177.3 442.6L1178.8 442.6L1180.3 442.5L1181.8 442.5L1183.3 442.5L1184.9 442.5L1186.4 442.5L1187.9 442.4L1189.4 442.4L1190.9 442.4L1192.4 442.4L1193.9 442.4L1195.4 442.3L1196.9 442.3L1198.4 442.3L1199.9 442.3L1201.4 442.2L1203.0 442.2L1204.5 442.2L1206.0 442.2L1207.5 442.1L1209.0 442.1L1210.5 442.1L1212.0 442.0L1213.6 442.0L1215.1 442.0L1216.6 441.9L1218.2 441.9L1219.7 441.9L1221.3 441.8L1222.8 441.8L1224.4 441.7L1226.0 441.7L1227.5 441.7L1229.1 441.6L1230.6 441.6L1232.2 441.5L1233.7 441.5L1235.3 441.4L1236.8 441.4L1238.4 441.4L1239.9 441.3L1241.4 441.3L1243.0 441.3L1244.5 441.2L1246.0 441.2L1247.5 441.1L1249.0 441.1L1250.5 441.1L1252.0 441.1L1253.4 441.0L1254.9 441.0L1256.3 441.0L1257.8 441.0L1259.2 440.9L1260.6 440.9L1262.0 440.9L1263.6 440.9L1265.2 440.9L1266.8 440.9L1268.3 440.9L1269.9 440.9L1271.4 440.9L1272.9 440.9L1274.3 440.9L1275.8 440.9L1277.2 440.9L1278.7 440.9L1280.1 440.9L1281.6 440.9L1283.0 441.0L1284.5 441.0L1285.9 441.0L1287.4 441.0L1288.9 441.0L1290.4 441.0L1291.9 441.0L1293.5 441.0L1295.1 441.0L1296.7 441.0L1298.3 441.0L1300.0 441.0L1301.3 441.0L1302.7 441.0L1304.0 441.0L1305.4 441.0L1306.8 440.9L1308.2 440.9L1309.6 440.9L1311.0 440.9L1312.5 440.9L1313.9 440.9L1315.3 440.8L1316.8 440.8L1318.3 440.8L1319.7 440.8L1321.2 440.7L1322.7 440.7L1324.2 440.7L1325.7 440.7L1327.2 440.6L1328.7 440.6L1330.3 440.6L1331.8 440.6L1333.3 440.5L1334.9 440.5L1336.4 440.5L1338.0 440.5L1339.5 440.4L1341.1 440.4L1342.7 440.4L1344.2 440.3L1345.8 440.3L1347.4 440.3L1348.9 440.3L1350.5 440.2L1352.1 440.2L1353.7 440.2L1355.3 440.2L1356.8 440.1L1358.4 440.1L1360.0 440.1L1361.4 440.1L1362.9 440.1L1364.3 440.0L1365.8 440.0L1367.3 440.0L1368.7 440.0L1370.2 440.0L1371.7 439.9L1373.2 439.9L1374.6 439.9L1376.1 439.9L1377.6 439.9L1379.1 439.9L1380.7 439.8L1382.2 439.8L1383.7 439.8L1385.2 439.8L1386.7 439.8L1388.2 439.7L1389.8 439.7L1391.3 439.7L1392.8 439.7L1394.4 439.7L1395.9 439.6L1397.4 439.6L1399.0 439.6L1400.5 439.6L1402.1 439.6L1403.6 439.6L1405.1 439.5L1406.7 439.5L1408.2 439.5L1409.8 439.5L1411.3 439.5L1412.8 439.4L1414.4 439.4L1415.9 439.4L1417.5 439.4L1419.0 439.4L1420.5 439.4L1422.0 439.3L1423.6 439.3L1425.1 439.3L1426.6 439.3L1428.2 439.3L1429.7 439.3L1431.2 439.2L1432.7 439.2L1434.2 439.2L1435.7 439.2L1437.2 439.2L1438.8 439.1L1440.3 439.1L1441.9 439.1L1443.4 439.1L1445.0 439.1L1446.5 439.1L1448.1 439.0L1449.7 439.0L1451.2 439.0L1452.8 439.0L1454.4 439.0L1455.9 439.0L1457.5 438.9L1459.1 438.9L1460.7 438.9L1462.2 438.9L1463.8 438.9L1465.4 438.8L1466.9 438.8L1468.5 438.8L1470.1 438.8L1471.6 438.8L1473.2 438.8L1474.7 438.7L1476.2 438.7L1477.8 438.7L1479.3 438.7L1480.8 438.7L1482.4 438.7L1483.9 438.6L1485.4 438.6L1486.9 438.6L1488.3 438.6L1489.8 438.6L1491.3 438.6L1492.7 438.5L1494.2 438.5L1495.6 438.5L1497.0 438.5L1498.4 438.5L1499.8 438.5L1501.2 438.5L1502.6 438.4L1503.9 438.4L1505.3 438.4L1506.6 438.4L1508.3 438.4L1510.0 438.4L1511.7 438.3L1513.4 438.3L1515.0 438.3L1516.6 438.3L1518.2 438.3L1519.8 438.3L1521.4 438.3L1522.9 438.2L1524.4 438.2L1526.0 438.2L1527.5 438.2L1529.0 438.2L1530.5 438.2L1532.0 438.2L1533.5 438.1L1535.0 438.1L1536.4 438.1L1537.9 438.1L1539.4 438.1L1540.9 438.1L1542.4 438.1L1543.9 438.1L1545.4 438.0L1546.9 438.0L1548.5 438.0L1550.0 438.0"/>
<path d="M505.3 419.9L506.8 420.0L508.3 420.1L508.5 562.0L508.7 563.6L508.8 565.2"/>
</g>
<g stroke="#000000">
<path transform="translate(-0.30 0)" d="M239.2 40.0L239.2 41.7L239.2 43.5L239.2 45.2L239.2 46.9L239.3 48.5L239.3 50.0L239.4 51.7L239.6 53.1L239.7 55.0L239.7 56.1L239.8 57.3L239.8 58.7L239.8 60.1L239.9 61.7L239.9 63.3L239.9 64.9L239.9 66.6L240.0 68.3L240.0 70.0L240.0 71.7L240.1 73.4L240.1 75.0L240.1 76.6L240.2 78.2L240.2 79.8L240.3 81.4L240.4 83.1L240.4 84.8L240.5 86.4L240.5 88.0L240.6 89.7L240.7 91.2L240.7 92.8L240.8 94.2L240.9 95.7L241.0 97.0L241.1 98.8L241.3 100.4L241.4 102.0L241.6 103.5L241.8 105.0L241.9 106.5L242.1 108.0L242.3 109.6L242.4 111.1L242.6 112.7L242.7 114.2L242.9 115.8L243.1 117.4L243.2 119.0L243.3 120.6L243.5 122.2L243.6 123.8L243.7 125.4L243.8 127.0L244.0 128.7L244.1 130.3L244.2 132.0L244.3 133.5L244.4 134.9L244.5 136.4L244.6 137.9L244.7 139.3L244.8 140.8L244.9 142.4L245.0 143.9L245.1 145.4L245.2 147.0L245.3 148.5L245.4 149.9L245.4 151.5L245.5 153.0L245.6 154.5L245.7 156.1L245.8 157.6L245.8 159.2L245.9 160.7L246.0 162.2L246.1 163.6L246.2 165.0L246.3 166.7L246.5 168.4L246.6 170.1L246.7 171.7L246.9 173.3L247.0 174.8L247.2 176.4L247.3 178.0L247.4 179.5L247.6 180.9L247.8 182.3L247.9 183.8L248.1 185.2L248.2 186.7L248.4 188.3L248.6 190.0L248.7 191.3L248.8 192.7L248.9 194.1L249.0 195.5L249.1 197.0L249.2 198.5L249.4 200.1L249.5 201.7L249.6 203.3L249.7 204.9L249.8 206.6L250.0 208.2L250.1 209.9L250.2 211.6L250.4 213.3L250.5 215.0L250.6 216.4L250.7 217.9L250.9 219.4L251.0 220.9L251.1 222.4L251.2 223.9L251.4 225.5L251.5 227.1L251.6 228.6L251.8 230.2L251.9 231.8L252.1 233.4L252.2 235.0L252.3 236.6L252.5 238.2L252.6 239.8L252.8 241.4L252.9 243.0L253.1 244.5L253.2 246.1L253.4 247.6L253.5 249.1L253.7 250.6L253.9 252.2L254.1 253.8L254.2 255.5L254.4 257.1L254.6 258.7L254.8 260.3L255.0 261.9L255.1 263.5L255.3 265.1L255.5 266.6L255.7 268.2L255.9 269.7L256.1 271.2L256.3 272.7L256.5 274.2L256.7 275.7L257.0 277.2L257.2 278.6L257.4 280.0L257.7 281.7L258.0 283.3L258.2 284.9L258.5 286.4L258.8 288.0L259.1 289.5L259.4 291.0L259.7 292.5L260.0 294.0L260.4 295.5L260.7 297.0L261.0 298.5L261.3 300.0L261.6 301.5L261.9 303.1L262.3 304.7L262.6 306.3L262.9 307.9L263.3 309.4L263.6 311.0L264.0 312.6L264.3 314.1L264.6 315.6L265.0 317.1L265.3 318.6L265.7 320.0L266.1 321.7L266.6 323.3L267.0 324.9L267.4 326.5L267.8 328.0L268.3 329.5L268.8 331.0L269.3 332.6L269.8 334.1L270.3 335.5L270.8 336.9L271.4 338.4L271.9 339.8L272.5 341.2L273.1 342.6L273.7 344.0L274.4 345.4L275.1 346.8L275.8 348.2L276.5 349.5L277.3 350.9L278.1 352.3L278.9 353.7L279.8 355.0L280.6 356.4L281.5 357.7L282.4 359.0L283.3 360.2L284.1 361.3L285.0 362.4L286.2 363.7L287.3 364.9L288.5 365.9L289.7 366.9L291.0 368.0L292.4 369.1L293.5 370.0L294.7 371.0L295.9 372.0L297.1 373.0L298.4 374.0L299.7 375.1L301.1 376.1L302.4 377.1L303.8 378.0L305.2 378.9L306.5 379.7L307.9 380.5L309.3 381.2L310.7 381.8L312.1 382.5L313.5 383.1L314.9 383.6L316.3 384.2L317.8 384.7L319.2 385.3L320.6 385.8L322.2 386.4L323.7 387.0L325.3 387.5L326.8 388.1L328.4 388.6L330.0 389.2L331.5 389.7L333.1 390.1L334.7 390.6L336.3 391.0L337.8 391.4L339.3 391.8L340.8 392.2L342.4 392.6L343.9 392.9L345.5 393.2L347.2 393.6L348.9 393.9L350.3 394.2L351.7 394.4L353.2 394.6L354.6 394.9L356.2 395.1L357.7 395.4L359.3 395.6L360.8 395.8L362.4 396.0L363.9 396.2L365.5 396.4L367.0 396.6L368.5 396.8L370.0 397.0L371.6 397.2L373.1 397.4L374.6 397.6L376.0 397.7L377.5 397.9L378.9 398.0L380.4 398.2L381.9 398.3L383.5 398.5L385.2 398.6L387.0 398.8L388.9 398.9L390.1 399.0L391.3 399.1L392.5 399.1L393.8 399.2L395.2 399.3L396.5 399.4L398.0 399.5L399.4 399.5L400.9 399.6L402.4 399.7L403.9 399.8L405.5 399.9L407.1 399.9L408.7 400.0L410.3 400.1L411.9 400.2L413.6 400.2L415.2 400.3L416.9 400.4L418.5 400.4L420.2 400.5L421.8 400.6L423.5 400.7L425.1 400.7L426.8 400.8L428.4 400.9L430.0 400.9L431.6 401.0L433.1 401.1L434.7 401.2L436.2 401.2L437.7 401.3L439.1 401.4L440.5 401.4L441.9 401.5L443.6 401.6L445.2 401.7L446.9 401.8L448.5 401.9L450.1 401.9L451.7 402.0L453.2 402.1L454.8 402.2L456.3 402.3L457.8 402.4L459.3 402.5L460.8 402.6L462.3 402.7L463.8 402.7L465.3 402.8L466.8 402.9L468.3 403.0L469.7 403.1L471.2 403.1L472.7 403.2L474.2 403.3L475.7 403.3L477.2 403.4L478.8 403.5L480.4 403.5L481.9 403.6L483.5 403.6L485.1 403.7L486.6 403.7L488.2 403.8L489.7 403.8L491.3 403.8L492.9 403.9L494.4 403.9L496.0 404.0L497.5 404.0L499.0 404.0L500.6 404.1L502.1 404.1L503.7 404.1L505.2 404.2L506.8 404.2L508.3 404.3L509.9 404.3M510.9 975.8L511.3 977.5L511.7 979.2L512.1 980.9L512.6 982.5L513.3 984.0L514.1 985.5L515.1 987.0L516.1 988.7L516.8 989.8L517.5 991.1L518.2 992.4L519.0 993.8L519.9 995.2L520.7 996.6L521.6 998.0L522.4 999.3L523.3 1000.5L524.2 1001.6L525.3 1002.9L526.5 1004.0L527.6 1005.0L528.8 1006.0L530.1 1007.0L531.6 1008.0L532.7 1008.7L533.9 1009.4L535.1 1010.1L536.5 1010.9L537.8 1011.6L539.2 1012.3L540.7 1012.9L542.1 1013.6L543.6 1014.2L545.1 1014.9L546.5 1015.4L548.0 1016.0L549.4 1016.5L550.8 1017.0L552.3 1017.4L553.7 1017.8L555.2 1018.2L556.6 1018.6L558.1 1018.9L559.6 1019.3L561.1 1019.6L562.7 1019.9L564.2 1020.3L565.8 1020.6L567.4 1020.9L568.8 1021.2L570.3 1021.5L571.7 1021.7L573.2 1022.0L574.7 1022.3L576.2 1022.5L577.7 1022.8L579.3 1023.0L580.8 1023.2L582.4 1023.5L583.9 1023.7L585.5 1023.9L587.0 1024.1L588.6 1024.3L590.1 1024.5L591.7 1024.6L593.2 1024.8L594.7 1025.0L596.2 1025.1L597.7 1025.2L599.3 1025.3L600.8 1025.4L602.3 1025.5L603.8 1025.6L605.3 1025.7L606.9 1025.8L608.4 1025.9L609.9 1025.9L611.4 1026.0L612.9 1026.1L614.4 1026.1L616.0 1026.2L617.5 1026.2L619.0 1026.3L620.5 1026.4L622.0 1026.4L623.5 1026.5L624.9 1026.5L626.4 1026.6L627.8 1026.6L629.3 1026.7L630.7 1026.7L632.2 1026.8L633.7 1026.8L635.2 1026.8L636.7 1026.9L638.2 1026.9L639.8 1026.9L641.4 1027.0L643.0 1027.0L644.7 1027.0L646.1 1027.0L647.5 1027.0L648.9 1027.0L650.3 1027.1L651.8 1027.1L653.3 1027.1L654.8 1027.1L656.3 1027.1L657.8 1027.1L659.3 1027.1L660.9 1027.1L662.5 1027.1L664.0 1027.1L665.6 1027.1L667.2 1027.1L668.8 1027.0L670.4 1027.0L672.0 1027.0L673.6 1027.0L675.2 1027.0L676.8 1027.0L678.4 1027.0L680.0 1027.0L681.5 1027.0L683.1 1027.0L684.7 1027.0L686.2 1027.0M687.5 953.6L687.5 952.0L687.6 950.4L687.6 948.8L687.7 947.2L687.7 945.6L687.7 944.0L687.8 942.4L687.9 940.9L688.0 939.4L688.1 937.8L688.3 936.2L688.5 934.6L688.7 933.1L688.9 931.6L689.1 930.2L689.4 928.8L689.8 926.9L690.2 925.2L690.7 923.5L691.2 921.8L691.7 920.3L692.2 918.9L692.8 917.4L693.4 916.0L694.0 914.7L694.9 913.0L696.0 911.4L697.2 909.8L698.3 908.7L699.5 907.5L700.8 906.4L702.2 905.3L703.6 904.1L704.7 903.1L705.9 902.1L707.0 901.1L708.2 900.1L709.4 899.1L710.6 898.1L711.7 897.1L713.0 896.0L714.2 894.9L715.4 893.8L716.6 892.7L717.8 891.6L719.0 890.3L720.0 889.2L721.0 887.9L721.9 886.7L722.9 885.4L723.8 884.0L724.7 882.7L725.6 881.3L726.4 880.0L727.2 878.5L728.0 877.1L728.7 875.6L729.4 874.1L730.1 872.6L730.7 871.0L731.3 869.4L731.8 867.9L732.3 866.4L732.7 864.9L733.2 863.3L733.6 861.7L734.0 860.1L734.4 858.5L734.7 856.9L735.0 855.3L735.3 853.8L735.5 852.2L735.7 850.7L735.9 849.2L736.1 847.7L736.2 846.1L736.3 844.5L736.5 842.9L736.6 841.2L736.7 839.8L736.8 838.4L736.9 836.9L737.0 835.5L737.0 833.9L737.1 832.4L737.1 830.9L737.2 829.3L737.3 827.7L737.3 826.2L737.4 824.6L737.4 823.1L737.5 821.5L737.5 820.0L737.5 818.5L737.6 817.1L737.6 815.6L737.7 814.2L737.7 812.9L737.7 811.5L737.8 810.0L737.8 808.6L737.8 807.1L737.9 805.6L737.9 804.1L737.9 802.4L738.0 800.7L738.0 798.9L738.0 797.7L738.1 796.5L738.1 795.2L738.1 793.9L738.1 792.6L738.2 791.2L738.2 789.8L738.2 788.4L738.3 787.0L738.3 785.5L738.3 784.0L738.4 782.5L738.4 781.0L738.4 779.5L738.4 777.9L738.5 776.3L738.5 774.7L738.5 773.1L738.6 771.5L738.6 769.9L738.7 768.3L738.7 766.7L738.7 765.1L738.8 763.4L738.8 761.8L738.8 760.2L738.9 758.6L738.9 757.0L739.0 755.4L739.0 753.8L739.0 752.2L739.1 750.6L739.1 749.1L739.2 747.5L739.2 746.0L739.2 744.5L739.3 743.0L739.3 741.4L739.4 739.9L739.4 738.3L739.5 736.8L739.5 735.2L739.6 733.6L739.6 732.1L739.7 730.5L739.7 728.9L739.8 727.3L739.8 725.8L739.9 724.2L739.9 722.6L740.0 721.1L740.0 719.5L740.1 717.9L740.1 716.4L740.2 714.8L740.3 713.3L740.3 711.8L740.4 710.2L740.4 708.7L740.5 707.2L740.5 705.7L740.6 704.3L740.6 702.8L740.7 701.4L740.7 699.9L740.8 698.5L740.8 697.1L740.9 695.7L740.9 694.3L741.0 693.0L741.1 691.3L741.1 689.7L741.2 688.0L741.3 686.4L741.3 684.8L741.4 683.2L741.5 681.6L741.5 680.1L741.6 678.5L741.7 677.0L741.7 675.5L741.8 674.0L741.8 672.5L741.9 671.1L742.0 669.6L742.0 668.2L742.1 666.8L742.2 665.4L742.2 664.0L742.3 662.7L742.3 661.3L742.4 660.0L742.5 658.3L742.5 656.7L742.6 655.2L742.7 653.7L742.8 652.3L742.8 650.9L742.9 649.5L743.0 648.0L743.0 646.6L743.1 645.1L743.2 643.5L743.2 641.8L743.3 640.0L743.3 638.7L743.4 637.5L743.4 636.1L743.5 634.8L743.5 633.4L743.6 631.9L743.6 630.5L743.6 629.0L743.7 627.5L743.7 626.0L743.8 624.4L743.8 622.9L743.8 621.3L743.9 619.7L743.9 618.1L744.0 616.5L744.0 614.8L744.0 613.2L744.1 611.6L744.1 609.9L744.2 608.3L744.3 606.6L744.3 605.0L744.4 603.4L744.4 601.8L744.5 600.1L744.6 598.6L744.6 597.0L744.7 595.4L744.8 593.9L744.9 592.4L744.9 590.8L745.0 589.3L745.1 587.7L745.2 586.1L745.3 584.5L745.4 582.9L745.4 581.3L745.5 579.7L745.6 578.1L745.7 576.5L745.8 574.9L745.9 573.3L746.0 571.7L746.1 570.1L746.2 568.5L746.3 567.0L746.4 565.4L746.6 563.9L746.7 562.3L746.8 560.8L746.9 559.3L747.0 557.9L747.1 556.4L747.2 555.0L747.3 553.6L747.5 552.2L747.6 550.9L747.7 549.6L747.8 548.3L748.0 546.5L748.1 544.8L748.3 543.1L748.4 541.4L748.6 539.9L748.7 538.3L748.9 536.8L749.1 535.3L749.2 533.8L749.4 532.3L749.6 530.8L749.8 529.4L750.1 527.9L750.3 526.3L750.6 524.8L750.9 523.3L751.2 521.8L751.5 520.4L751.8 518.9L752.1 517.4L752.4 515.9L752.8 514.5L753.2 513.0L753.5 511.5L753.9 510.1L754.3 508.6L754.7 507.1L755.1 505.7L755.6 504.2L756.0 502.8L756.5 501.3L757.0 499.8L757.5 498.3L758.0 496.8L758.6 495.4L759.1 493.9L759.7 492.4L760.3 490.9L760.9 489.5L761.5 488.0L762.1 486.5L762.8 485.0L763.4 483.6L764.0 482.1L764.6 480.6L765.3 479.2L765.9 477.7L766.5 476.3L767.1 474.9L767.7 473.5L768.2 472.1L768.8 470.7L769.4 469.3L770.0 468.0L770.6 466.6L771.2 465.2L771.8 463.8L772.4 462.4L773.1 461.0L773.7 459.7L774.4 458.3L775.1 456.9L775.8 455.6L776.5 454.2L777.2 452.9L778.0 451.5L778.8 450.1L779.6 448.7L780.4 447.3L781.3 445.9L782.1 444.5L783.0 443.1L783.9 441.7L784.8 440.4L785.6 439.0L786.5 437.7L787.4 436.4L788.3 435.2L789.2 434.0L790.1 432.8L790.9 431.7L791.8 430.6L792.9 429.3L793.9 428.1L794.9 426.9L796.0 425.7L797.0 424.7L798.1 423.6L799.1 422.6L800.2 421.6L801.3 420.7L802.4 419.8L803.6 418.9L804.9 418.0L806.2 417.2L807.5 416.4L808.8 415.6L810.1 414.9L811.5 414.2L813.0 413.6L814.5 413.0L816.0 412.4L817.7 411.8L818.9 411.4L820.2 411.1L821.5 410.7L822.9 410.4L824.2 410.1L825.6 409.8L827.1 409.6L828.6 409.3L830.1 409.1L831.6 408.9L833.1 408.7L834.7 408.4L836.3 408.2L837.9 408.1L839.5 407.9L841.1 407.7L842.7 407.5L844.4 407.3L846.0 407.1L847.4 406.9L848.8 406.8L850.2 406.6L851.6 406.5L853.0 406.4L854.5 406.2L856.0 406.1L857.5 406.0L859.0 405.9L860.5 405.8L862.0 405.7L863.5 405.6L865.1 405.5L866.6 405.4L868.2 405.3L869.7 405.2L871.3 405.1L872.8 405.0L874.4 404.9L876.0 404.8L877.5 404.7L879.1 404.6L880.6 404.5L882.2 404.4L883.7 404.3L885.3 404.2L886.8 404.1L888.3 404.0M888.3 404.0L935.4 402.4L970.7 400.0L994.3 397.2L1029.6 396.5L1043.7 401.2L1076.5 402.0L1088.0 405.0L1108.3 403.3L1129.5 402.0L1159.5 402.4L1200.0 402.4L1217.8 401.0L1230.0 401.5L1262.0 402.4L1288.4 402.0L1314.9 402.7L1330.0 402.7L1335.3 401.8L1374.2 401.8L1385.6 399.2L1398.9 401.5L1416.5 401.5L1420.0 400.9L1444.8 400.9L1455.4 401.8L1462.5 394.7L1466.9 393.9L1473.0 396.9L1476.6 397.7L1499.5 397.7L1503.0 396.9L1524.3 396.5L1529.6 395.6L1534.9 396.2L1540.2 397.9L1550.0 397.4"/>
<path transform="translate(0.30 0)" d="M239.2 40.0L239.2 41.7L239.2 43.5L239.2 45.2L239.2 46.9L239.3 48.5L239.3 50.0L239.4 51.7L239.6 53.1L239.7 55.0L239.7 56.1L239.8 57.3L239.8 58.7L239.8 60.1L239.9 61.7L239.9 63.3L239.9 64.9L239.9 66.6L240.0 68.3L240.0 70.0L240.0 71.7L240.1 73.4L240.1 75.0L240.1 76.6L240.2 78.2L240.2 79.8L240.3 81.4L240.4 83.1L240.4 84.8L240.5 86.4L240.5 88.0L240.6 89.7L240.7 91.2L240.7 92.8L240.8 94.2L240.9 95.7L241.0 97.0L241.1 98.8L241.3 100.4L241.4 102.0L241.6 103.5L241.8 105.0L241.9 106.5L242.1 108.0L242.3 109.6L242.4 111.1L242.6 112.7L242.7 114.2L242.9 115.8L243.1 117.4L243.2 119.0L243.3 120.6L243.5 122.2L243.6 123.8L243.7 125.4L243.8 127.0L244.0 128.7L244.1 130.3L244.2 132.0L244.3 133.5L244.4 134.9L244.5 136.4L244.6 137.9L244.7 139.3L244.8 140.8L244.9 142.4L245.0 143.9L245.1 145.4L245.2 147.0L245.3 148.5L245.4 149.9L245.4 151.5L245.5 153.0L245.6 154.5L245.7 156.1L245.8 157.6L245.8 159.2L245.9 160.7L246.0 162.2L246.1 163.6L246.2 165.0L246.3 166.7L246.5 168.4L246.6 170.1L246.7 171.7L246.9 173.3L247.0 174.8L247.2 176.4L247.3 178.0L247.4 179.5L247.6 180.9L247.8 182.3L247.9 183.8L248.1 185.2L248.2 186.7L248.4 188.3L248.6 190.0L248.7 191.3L248.8 192.7L248.9 194.1L249.0 195.5L249.1 197.0L249.2 198.5L249.4 200.1L249.5 201.7L249.6 203.3L249.7 204.9L249.8 206.6L250.0 208.2L250.1 209.9L250.2 211.6L250.4 213.3L250.5 215.0L250.6 216.4L250.7 217.9L250.9 219.4L251.0 220.9L251.1 222.4L251.2 223.9L251.4 225.5L251.5 227.1L251.6 228.6L251.8 230.2L251.9 231.8L252.1 233.4L252.2 235.0L252.3 236.6L252.5 238.2L252.6 239.8L252.8 241.4L252.9 243.0L253.1 244.5L253.2 246.1L253.4 247.6L253.5 249.1L253.7 250.6L253.9 252.2L254.1 253.8L254.2 255.5L254.4 257.1L254.6 258.7L254.8 260.3L255.0 261.9L255.1 263.5L255.3 265.1L255.5 266.6L255.7 268.2L255.9 269.7L256.1 271.2L256.3 272.7L256.5 274.2L256.7 275.7L257.0 277.2L257.2 278.6L257.4 280.0L257.7 281.7L258.0 283.3L258.2 284.9L258.5 286.4L258.8 288.0L259.1 289.5L259.4 291.0L259.7 292.5L260.0 294.0L260.4 295.5L260.7 297.0L261.0 298.5L261.3 300.0L261.6 301.5L261.9 303.1L262.3 304.7L262.6 306.3L262.9 307.9L263.3 309.4L263.6 311.0L264.0 312.6L264.3 314.1L264.6 315.6L265.0 317.1L265.3 318.6L265.7 320.0L266.1 321.7L266.6 323.3L267.0 324.9L267.4 326.5L267.8 328.0L268.3 329.5L268.8 331.0L269.3 332.6L269.8 334.1L270.3 335.5L270.8 336.9L271.4 338.4L271.9 339.8L272.5 341.2L273.1 342.6L273.7 344.0L274.4 345.4L275.1 346.8L275.8 348.2L276.5 349.5L277.3 350.9L278.1 352.3L278.9 353.7L279.8 355.0L280.6 356.4L281.5 357.7L282.4 359.0L283.3 360.2L284.1 361.3L285.0 362.4L286.2 363.7L287.3 364.9L288.5 365.9L289.7 366.9L291.0 368.0L292.4 369.1L293.5 370.0L294.7 371.0L295.9 372.0L297.1 373.0L298.4 374.0L299.7 375.1L301.1 376.1L302.4 377.1L303.8 378.0L305.2 378.9L306.5 379.7L307.9 380.5L309.3 381.2L310.7 381.8L312.1 382.5L313.5 383.1L314.9 383.6L316.3 384.2L317.8 384.7L319.2 385.3L320.6 385.8L322.2 386.4L323.7 387.0L325.3 387.5L326.8 388.1L328.4 388.6L330.0 389.2L331.5 389.7L333.1 390.1L334.7 390.6L336.3 391.0L337.8 391.4L339.3 391.8L340.8 392.2L342.4 392.6L343.9 392.9L345.5 393.2L347.2 393.6L348.9 393.9L350.3 394.2L351.7 394.4L353.2 394.6L354.6 394.9L356.2 395.1L357.7 395.4L359.3 395.6L360.8 395.8L362.4 396.0L363.9 396.2L365.5 396.4L367.0 396.6L368.5 396.8L370.0 397.0L371.6 397.2L373.1 397.4L374.6 397.6L376.0 397.7L377.5 397.9L378.9 398.0L380.4 398.2L381.9 398.3L383.5 398.5L385.2 398.6L387.0 398.8L388.9 398.9L390.1 399.0L391.3 399.1L392.5 399.1L393.8 399.2L395.2 399.3L396.5 399.4L398.0 399.5L399.4 399.5L400.9 399.6L402.4 399.7L403.9 399.8L405.5 399.9L407.1 399.9L408.7 400.0L410.3 400.1L411.9 400.2L413.6 400.2L415.2 400.3L416.9 400.4L418.5 400.4L420.2 400.5L421.8 400.6L423.5 400.7L425.1 400.7L426.8 400.8L428.4 400.9L430.0 400.9L431.6 401.0L433.1 401.1L434.7 401.2L436.2 401.2L437.7 401.3L439.1 401.4L440.5 401.4L441.9 401.5L443.6 401.6L445.2 401.7L446.9 401.8L448.5 401.9L450.1 401.9L451.7 402.0L453.2 402.1L454.8 402.2L456.3 402.3L457.8 402.4L459.3 402.5L460.8 402.6L462.3 402.7L463.8 402.7L465.3 402.8L466.8 402.9L468.3 403.0L469.7 403.1L471.2 403.1L472.7 403.2L474.2 403.3L475.7 403.3L477.2 403.4L478.8 403.5L480.4 403.5L481.9 403.6L483.5 403.6L485.1 403.7L486.6 403.7L488.2 403.8L489.7 403.8L491.3 403.8L492.9 403.9L494.4 403.9L496.0 404.0L497.5 404.0L499.0 404.0L500.6 404.1L502.1 404.1L503.7 404.1L505.2 404.2L506.8 404.2L508.3 404.3L509.9 404.3M510.9 975.8L511.3 977.5L511.7 979.2L512.1 980.9L512.6 982.5L513.3 984.0L514.1 985.5L515.1 987.0L516.1 988.7L516.8 989.8L517.5 991.1L518.2 992.4L519.0 993.8L519.9 995.2L520.7 996.6L521.6 998.0L522.4 999.3L523.3 1000.5L524.2 1001.6L525.3 1002.9L526.5 1004.0L527.6 1005.0L528.8 1006.0L530.1 1007.0L531.6 1008.0L532.7 1008.7L533.9 1009.4L535.1 1010.1L536.5 1010.9L537.8 1011.6L539.2 1012.3L540.7 1012.9L542.1 1013.6L543.6 1014.2L545.1 1014.9L546.5 1015.4L548.0 1016.0L549.4 1016.5L550.8 1017.0L552.3 1017.4L553.7 1017.8L555.2 1018.2L556.6 1018.6L558.1 1018.9L559.6 1019.3L561.1 1019.6L562.7 1019.9L564.2 1020.3L565.8 1020.6L567.4 1020.9L568.8 1021.2L570.3 1021.5L571.7 1021.7L573.2 1022.0L574.7 1022.3L576.2 1022.5L577.7 1022.8L579.3 1023.0L580.8 1023.2L582.4 1023.5L583.9 1023.7L585.5 1023.9L587.0 1024.1L588.6 1024.3L590.1 1024.5L591.7 1024.6L593.2 1024.8L594.7 1025.0L596.2 1025.1L597.7 1025.2L599.3 1025.3L600.8 1025.4L602.3 1025.5L603.8 1025.6L605.3 1025.7L606.9 1025.8L608.4 1025.9L609.9 1025.9L611.4 1026.0L612.9 1026.1L614.4 1026.1L616.0 1026.2L617.5 1026.2L619.0 1026.3L620.5 1026.4L622.0 1026.4L623.5 1026.5L624.9 1026.5L626.4 1026.6L627.8 1026.6L629.3 1026.7L630.7 1026.7L632.2 1026.8L633.7 1026.8L635.2 1026.8L636.7 1026.9L638.2 1026.9L639.8 1026.9L641.4 1027.0L643.0 1027.0L644.7 1027.0L646.1 1027.0L647.5 1027.0L648.9 1027.0L650.3 1027.1L651.8 1027.1L653.3 1027.1L654.8 1027.1L656.3 1027.1L657.8 1027.1L659.3 1027.1L660.9 1027.1L662.5 1027.1L664.0 1027.1L665.6 1027.1L667.2 1027.1L668.8 1027.0L670.4 1027.0L672.0 1027.0L673.6 1027.0L675.2 1027.0L676.8 1027.0L678.4 1027.0L680.0 1027.0L681.5 1027.0L683.1 1027.0L684.7 1027.0L686.2 1027.0M687.5 953.6L687.5 952.0L687.6 950.4L687.6 948.8L687.7 947.2L687.7 945.6L687.7 944.0L687.8 942.4L687.9 940.9L688.0 939.4L688.1 937.8L688.3 936.2L688.5 934.6L688.7 933.1L688.9 931.6L689.1 930.2L689.4 928.8L689.8 926.9L690.2 925.2L690.7 923.5L691.2 921.8L691.7 920.3L692.2 918.9L692.8 917.4L693.4 916.0L694.0 914.7L694.9 913.0L696.0 911.4L697.2 909.8L698.3 908.7L699.5 907.5L700.8 906.4L702.2 905.3L703.6 904.1L704.7 903.1L705.9 902.1L707.0 901.1L708.2 900.1L709.4 899.1L710.6 898.1L711.7 897.1L713.0 896.0L714.2 894.9L715.4 893.8L716.6 892.7L717.8 891.6L719.0 890.3L720.0 889.2L721.0 887.9L721.9 886.7L722.9 885.4L723.8 884.0L724.7 882.7L725.6 881.3L726.4 880.0L727.2 878.5L728.0 877.1L728.7 875.6L729.4 874.1L730.1 872.6L730.7 871.0L731.3 869.4L731.8 867.9L732.3 866.4L732.7 864.9L733.2 863.3L733.6 861.7L734.0 860.1L734.4 858.5L734.7 856.9L735.0 855.3L735.3 853.8L735.5 852.2L735.7 850.7L735.9 849.2L736.1 847.7L736.2 846.1L736.3 844.5L736.5 842.9L736.6 841.2L736.7 839.8L736.8 838.4L736.9 836.9L737.0 835.5L737.0 833.9L737.1 832.4L737.1 830.9L737.2 829.3L737.3 827.7L737.3 826.2L737.4 824.6L737.4 823.1L737.5 821.5L737.5 820.0L737.5 818.5L737.6 817.1L737.6 815.6L737.7 814.2L737.7 812.9L737.7 811.5L737.8 810.0L737.8 808.6L737.8 807.1L737.9 805.6L737.9 804.1L737.9 802.4L738.0 800.7L738.0 798.9L738.0 797.7L738.1 796.5L738.1 795.2L738.1 793.9L738.1 792.6L738.2 791.2L738.2 789.8L738.2 788.4L738.3 787.0L738.3 785.5L738.3 784.0L738.4 782.5L738.4 781.0L738.4 779.5L738.4 777.9L738.5 776.3L738.5 774.7L738.5 773.1L738.6 771.5L738.6 769.9L738.7 768.3L738.7 766.7L738.7 765.1L738.8 763.4L738.8 761.8L738.8 760.2L738.9 758.6L738.9 757.0L739.0 755.4L739.0 753.8L739.0 752.2L739.1 750.6L739.1 749.1L739.2 747.5L739.2 746.0L739.2 744.5L739.3 743.0L739.3 741.4L739.4 739.9L739.4 738.3L739.5 736.8L739.5 735.2L739.6 733.6L739.6 732.1L739.7 730.5L739.7 728.9L739.8 727.3L739.8 725.8L739.9 724.2L739.9 722.6L740.0 721.1L740.0 719.5L740.1 717.9L740.1 716.4L740.2 714.8L740.3 713.3L740.3 711.8L740.4 710.2L740.4 708.7L740.5 707.2L740.5 705.7L740.6 704.3L740.6 702.8L740.7 701.4L740.7 699.9L740.8 698.5L740.8 697.1L740.9 695.7L740.9 694.3L741.0 693.0L741.1 691.3L741.1 689.7L741.2 688.0L741.3 686.4L741.3 684.8L741.4 683.2L741.5 681.6L741.5 680.1L741.6 678.5L741.7 677.0L741.7 675.5L741.8 674.0L741.8 672.5L741.9 671.1L742.0 669.6L742.0 668.2L742.1 666.8L742.2 665.4L742.2 664.0L742.3 662.7L742.3 661.3L742.4 660.0L742.5 658.3L742.5 656.7L742.6 655.2L742.7 653.7L742.8 652.3L742.8 650.9L742.9 649.5L743.0 648.0L743.0 646.6L743.1 645.1L743.2 643.5L743.2 641.8L743.3 640.0L743.3 638.7L743.4 637.5L743.4 636.1L743.5 634.8L743.5 633.4L743.6 631.9L743.6 630.5L743.6 629.0L743.7 627.5L743.7 626.0L743.8 624.4L743.8 622.9L743.8 621.3L743.9 619.7L743.9 618.1L744.0 616.5L744.0 614.8L744.0 613.2L744.1 611.6L744.1 609.9L744.2 608.3L744.3 606.6L744.3 605.0L744.4 603.4L744.4 601.8L744.5 600.1L744.6 598.6L744.6 597.0L744.7 595.4L744.8 593.9L744.9 592.4L744.9 590.8L745.0 589.3L745.1 587.7L745.2 586.1L745.3 584.5L745.4 582.9L745.4 581.3L745.5 579.7L745.6 578.1L745.7 576.5L745.8 574.9L745.9 573.3L746.0 571.7L746.1 570.1L746.2 568.5L746.3 567.0L746.4 565.4L746.6 563.9L746.7 562.3L746.8 560.8L746.9 559.3L747.0 557.9L747.1 556.4L747.2 555.0L747.3 553.6L747.5 552.2L747.6 550.9L747.7 549.6L747.8 548.3L748.0 546.5L748.1 544.8L748.3 543.1L748.4 541.4L748.6 539.9L748.7 538.3L748.9 536.8L749.1 535.3L749.2 533.8L749.4 532.3L749.6 530.8L749.8 529.4L750.1 527.9L750.3 526.3L750.6 524.8L750.9 523.3L751.2 521.8L751.5 520.4L751.8 518.9L752.1 517.4L752.4 515.9L752.8 514.5L753.2 513.0L753.5 511.5L753.9 510.1L754.3 508.6L754.7 507.1L755.1 505.7L755.6 504.2L756.0 502.8L756.5 501.3L757.0 499.8L757.5 498.3L758.0 496.8L758.6 495.4L759.1 493.9L759.7 492.4L760.3 490.9L760.9 489.5L761.5 488.0L762.1 486.5L762.8 485.0L763.4 483.6L764.0 482.1L764.6 480.6L765.3 479.2L765.9 477.7L766.5 476.3L767.1 474.9L767.7 473.5L768.2 472.1L768.8 470.7L769.4 469.3L770.0 468.0L770.6 466.6L771.2 465.2L771.8 463.8L772.4 462.4L773.1 461.0L773.7 459.7L774.4 458.3L775.1 456.9L775.8 455.6L776.5 454.2L777.2 452.9L778.0 451.5L778.8 450.1L779.6 448.7L780.4 447.3L781.3 445.9L782.1 444.5L783.0 443.1L783.9 441.7L784.8 440.4L785.6 439.0L786.5 437.7L787.4 436.4L788.3 435.2L789.2 434.0L790.1 432.8L790.9 431.7L791.8 430.6L792.9 429.3L793.9 428.1L794.9 426.9L796.0 425.7L797.0 424.7L798.1 423.6L799.1 422.6L800.2 421.6L801.3 420.7L802.4 419.8L803.6 418.9L804.9 418.0L806.2 417.2L807.5 416.4L808.8 415.6L810.1 414.9L811.5 414.2L813.0 413.6L814.5 413.0L816.0 412.4L817.7 411.8L818.9 411.4L820.2 411.1L821.5 410.7L822.9 410.4L824.2 410.1L825.6 409.8L827.1 409.6L828.6 409.3L830.1 409.1L831.6 408.9L833.1 408.7L834.7 408.4L836.3 408.2L837.9 408.1L839.5 407.9L841.1 407.7L842.7 407.5L844.4 407.3L846.0 407.1L847.4 406.9L848.8 406.8L850.2 406.6L851.6 406.5L853.0 406.4L854.5 406.2L856.0 406.1L857.5 406.0L859.0 405.9L860.5 405.8L862.0 405.7L863.5 405.6L865.1 405.5L866.6 405.4L868.2 405.3L869.7 405.2L871.3 405.1L872.8 405.0L874.4 404.9L876.0 404.8L877.5 404.7L879.1 404.6L880.6 404.5L882.2 404.4L883.7 404.3L885.3 404.2L886.8 404.1L888.3 404.0M888.3 404.0L935.4 402.4L970.7 400.0L994.3 397.2L1029.6 396.5L1043.7 401.2L1076.5 402.0L1088.0 405.0L1108.3 403.3L1129.5 402.0L1159.5 402.4L1200.0 402.4L1217.8 401.0L1230.0 401.5L1262.0 402.4L1288.4 402.0L1314.9 402.7L1330.0 402.7L1335.3 401.8L1374.2 401.8L1385.6 399.2L1398.9 401.5L1416.5 401.5L1420.0 400.9L1444.8 400.9L1455.4 401.8L1462.5 394.7L1466.9 393.9L1473.0 396.9L1476.6 397.7L1499.5 397.7L1503.0 396.9L1524.3 396.5L1529.6 395.6L1534.9 396.2L1540.2 397.9L1550.0 397.4"/>
<path d="M506.8 404.2L508.3 404.3L509.9 404.3L510.4 612.0L510.9 975.8L511.3 977.5L511.7 979.2M683.1 1027.0L684.7 1027.0L686.2 1027.0L687.5 953.6L687.5 952.0L687.6 950.4"/>
</g>
</g>
<g font-family="'Liberation Serif', 'Times New Roman', serif" font-size="49.5px" fill="#000">
<text x="205.3" y="60.2" text-anchor="end">0.2</text>
<text x="205.3" y="219.0" text-anchor="end">0.0</text>
<text x="205.3" y="377.7" text-anchor="end">-0.2</text>
<text x="205.3" y="536.5" text-anchor="end">-0.4</text>
<text x="205.3" y="695.3" text-anchor="end">-0.6</text>
<text x="205.3" y="854.0" text-anchor="end">-0.8</text>
<text x="205.3" y="1012.8" text-anchor="end">-1.0</text>
<text x="239.9" y="1149" text-anchor="middle">0</text>
<text x="501.1" y="1149" text-anchor="middle">200</text>
<text x="762.3" y="1149" text-anchor="middle">400</text>
<text x="1023.5" y="1149" text-anchor="middle">600</text>
<text x="1284.7" y="1149" text-anchor="middle">800</text>
<text x="1545.9" y="1149" text-anchor="middle">1000</text>
<line x1="786.3" y1="42.8" x2="895.5" y2="42.8" stroke="#0000ff" stroke-width="6.5" stroke-linecap="round"/>
<text x="907.4" y="59.4">FTO/CdS-HTa400 (HCOONa 1M)</text>
<line x1="786.3" y1="102.4" x2="895.5" y2="102.4" stroke="#ff0000" stroke-width="6.5" stroke-linecap="round"/>
<text x="907.4" y="119.0">FTO/CdS-HT (HCOONa 1M)</text>
<line x1="786.3" y1="162.4" x2="895.5" y2="162.4" stroke="#000000" stroke-width="6.5" stroke-linecap="round"/>
<text x="907.4" y="179.0">FTO/CdS(commercial) (HCOONa 1M)</text>
</g>
<g font-family="'Liberation Serif', 'Times New Roman', serif" font-size="58.5px" fill="#000">
<text x="892.7" y="1240" text-anchor="middle" letter-spacing="0.4">Time (s)</text>
<text transform="translate(60 529.2) rotate(-90)" text-anchor="middle" letter-spacing="0.15">V (V vs SCE)</text>
</g>
</svg>
</body>
</html>
